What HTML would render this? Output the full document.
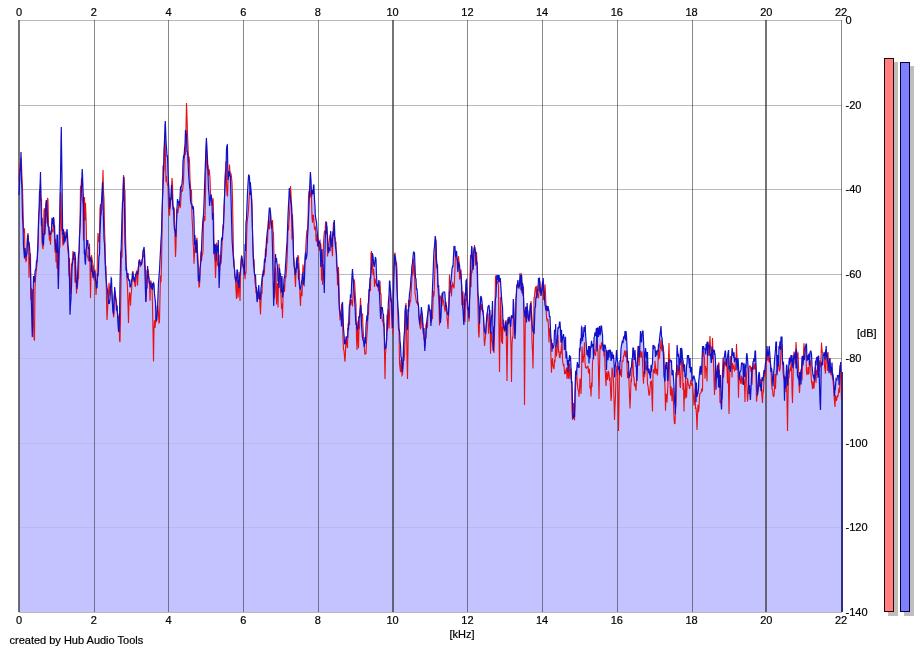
<!DOCTYPE html>
<html><head><meta charset="utf-8"><style>
html,body{margin:0;padding:0;background:#fff;}
body{width:924px;height:652px;overflow:hidden;position:relative;}
svg{position:absolute;left:0;top:0;}
text{font-family:"Liberation Sans",Arial,sans-serif;font-size:11px;fill:#000;stroke:#000;stroke-width:0.2px;}
</style></head><body>
<svg width="924" height="652" viewBox="0 0 924 652">
<rect width="924" height="652" fill="#fff"/>
<rect x="19" y="20" width="823" height="1" fill="#c4c4c4"/><rect x="19" y="105" width="823" height="1" fill="#c4c4c4"/><rect x="19" y="189" width="823" height="1" fill="#c4c4c4"/><rect x="19" y="274" width="823" height="1" fill="#c4c4c4"/><rect x="19" y="358" width="823" height="1" fill="#c4c4c4"/><rect x="19" y="443" width="823" height="1" fill="#c4c4c4"/><rect x="19" y="527" width="823" height="1" fill="#c4c4c4"/><rect x="19" y="612" width="823" height="1" fill="#c4c4c4"/>
<path d="M19 612 L19.0 181.6 L19.5 169.4 L20.0 163.3 L20.5 170.1 L21.0 152.0 L21.5 164.9 L22.0 178.5 L22.5 187.9 L23.0 206.6 L23.5 229.9 L24.0 232.9 L24.5 228.3 L25.0 248.0 L25.5 254.4 L25.7 257.0 L26.0 253.6 L26.5 254.9 L27.0 244.2 L27.5 235.4 L28.0 233.0 L28.5 240.3 L29.0 241.9 L29.5 247.0 L29.7 249.0 L30.0 257.1 L30.5 253.2 L30.6 262.6 L31.0 293.5 L31.5 288.2 L32.0 291.9 L32.3 312.2 L32.5 325.7 L33.0 289.1 L33.5 276.0 L34.0 278.8 L34.5 282.4 L35.0 272.1 L35.5 269.4 L35.8 269.0 L36.0 268.3 L36.5 261.0 L37.0 261.2 L37.5 252.0 L38.0 240.2 L38.5 221.2 L39.0 210.6 L39.3 200.0 L39.5 192.1 L40.0 188.6 L40.5 172.0 L41.0 201.0 L41.5 198.5 L42.0 217.7 L42.5 238.8 L42.7 243.0 L43.0 240.5 L43.5 238.3 L44.0 210.3 L44.5 208.2 L45.0 226.6 L45.5 217.5 L46.0 202.1 L46.4 200.0 L46.5 201.9 L47.0 211.3 L47.5 198.0 L47.9 199.4 L48.0 199.7 L48.5 226.6 L49.0 226.9 L49.5 234.5 L49.7 235.0 L50.0 235.0 L50.5 234.5 L51.0 231.1 L51.4 231.0 L51.5 228.8 L52.0 217.9 L52.5 223.7 L53.0 224.0 L53.5 217.0 L54.0 219.5 L54.5 224.9 L55.0 239.4 L55.5 239.6 L55.7 248.7 L56.0 247.7 L56.5 243.4 L57.0 235.0 L57.5 235.0 L58.0 261.2 L58.3 275.9 L58.5 277.4 L59.0 249.6 L59.5 224.3 L59.7 217.0 L60.0 197.6 L60.5 178.5 L61.0 141.5 L61.3 127.0 L61.5 144.2 L62.0 179.4 L62.5 220.9 L62.7 235.0 L63.0 232.1 L63.5 228.9 L64.0 233.0 L64.5 233.0 L65.0 232.0 L65.3 232.8 L65.5 233.4 L66.0 233.6 L66.5 234.5 L67.0 229.0 L67.5 235.3 L68.0 244.3 L68.5 249.8 L68.7 252.0 L69.0 265.1 L69.5 258.1 L70.0 280.8 L70.5 294.6 L71.0 279.9 L71.5 264.0 L72.0 264.0 L72.2 261.7 L72.5 258.1 L73.0 251.0 L73.5 254.6 L74.0 252.0 L74.5 253.9 L74.8 252.0 L75.0 254.7 L75.5 258.4 L76.0 278.6 L76.5 282.2 L77.0 284.8 L77.5 277.2 L78.0 263.7 L78.5 254.4 L79.0 252.4 L79.1 251.1 L79.5 235.2 L80.0 224.7 L80.5 185.7 L80.9 187.5 L81.0 188.0 L81.5 178.4 L82.0 174.7 L82.2 169.0 L82.5 173.7 L83.0 189.0 L83.5 200.0 L84.0 224.2 L84.3 207.9 L84.5 197.0 L85.0 220.6 L85.5 202.7 L86.0 215.7 L86.5 238.0 L87.0 240.0 L87.5 245.3 L87.8 240.0 L88.0 244.6 L88.5 249.5 L89.0 247.3 L89.5 243.5 L90.0 261.8 L90.5 257.0 L91.0 259.0 L91.3 259.0 L91.5 255.0 L92.0 258.8 L92.5 261.5 L93.0 265.0 L93.5 267.1 L94.0 271.0 L94.5 269.0 L94.7 269.5 L95.0 270.2 L95.5 279.4 L96.0 281.5 L96.5 287.0 L97.0 281.7 L97.5 250.0 L98.0 233.0 L98.2 236.1 L98.5 240.8 L99.0 241.9 L99.5 233.0 L99.9 213.7 L100.0 208.9 L100.5 204.1 L101.0 206.8 L101.5 201.5 L102.0 192.1 L102.5 182.0 L103.0 170.0 L103.4 187.1 L103.5 191.4 L104.0 198.8 L104.5 227.3 L105.0 241.3 L105.1 246.1 L105.5 265.0 L106.0 266.7 L106.5 283.3 L106.9 287.0 L107.0 287.5 L107.5 290.2 L108.0 297.7 L108.5 295.5 L108.6 292.9 L109.0 282.7 L109.5 288.9 L110.0 295.4 L110.5 285.9 L111.0 281.8 L111.2 278.0 L111.5 278.5 L112.0 293.2 L112.5 304.2 L112.9 307.5 L113.0 308.1 L113.5 314.1 L114.0 297.7 L114.5 292.1 L114.7 287.0 L115.0 290.5 L115.5 295.2 L116.0 298.3 L116.5 302.2 L117.0 305.5 L117.3 310.7 L117.5 313.1 L118.0 315.0 L118.5 322.8 L119.0 316.1 L119.5 317.8 L120.0 282.3 L120.5 262.7 L120.7 252.0 L121.0 252.0 L121.5 237.2 L122.0 215.2 L122.5 202.1 L123.0 187.3 L123.5 175.0 L123.8 176.9 L124.0 178.2 L124.5 189.2 L125.0 191.0 L125.5 235.3 L126.0 254.1 L126.5 268.1 L126.8 273.0 L127.0 273.7 L127.5 278.5 L128.0 273.0 L128.5 280.0 L129.0 279.5 L129.5 280.0 L130.0 286.8 L130.3 287.0 L130.5 286.6 L131.0 285.7 L131.5 279.4 L132.0 281.4 L132.5 272.3 L132.9 271.3 L133.0 271.0 L133.5 278.5 L134.0 278.1 L134.5 278.6 L134.6 280.1 L135.0 279.8 L135.5 274.5 L136.0 274.0 L136.3 273.0 L136.5 271.0 L137.0 271.0 L137.5 274.8 L138.0 269.5 L138.5 266.7 L139.0 261.0 L139.5 259.2 L139.8 261.0 L140.0 261.8 L140.5 263.8 L141.0 263.2 L141.5 263.7 L142.0 259.7 L142.4 259.0 L142.5 257.6 L143.0 250.7 L143.5 249.8 L144.0 247.5 L144.1 247.0 L144.5 251.7 L145.0 264.2 L145.5 268.3 L145.8 288.4 L146.0 297.8 L146.5 287.3 L147.0 269.9 L147.5 269.7 L147.6 266.0 L148.0 269.0 L148.5 271.8 L149.0 278.2 L149.3 282.2 L149.5 282.9 L150.0 282.9 L150.5 281.0 L151.0 281.0 L151.5 284.9 L152.0 283.0 L152.5 289.9 L153.0 284.5 L153.5 283.3 L153.6 283.0 L154.0 284.1 L154.5 293.9 L155.0 298.1 L155.5 302.3 L156.0 315.7 L156.5 320.0 L156.7 316.2 L157.0 307.3 L157.5 304.9 L158.0 295.1 L158.5 283.0 L159.0 276.7 L159.5 270.1 L160.0 259.8 L160.5 250.9 L161.0 240.0 L161.5 233.3 L162.0 211.4 L162.5 198.3 L162.8 179.4 L163.0 165.5 L163.5 173.2 L164.0 151.1 L164.5 140.0 L165.0 125.5 L165.3 121.0 L165.5 126.6 L166.0 140.5 L166.3 145.0 L166.5 148.0 L167.0 155.5 L167.1 157.0 L167.5 155.6 L168.0 171.8 L168.5 182.8 L168.9 188.0 L169.0 190.6 L169.5 203.8 L169.7 209.0 L170.0 206.2 L170.5 197.8 L171.0 197.1 L171.5 185.0 L172.0 178.0 L172.3 181.5 L172.5 183.8 L173.0 205.2 L173.5 207.2 L174.0 207.8 L174.5 212.9 L175.0 229.8 L175.5 233.7 L175.8 237.0 L176.0 233.0 L176.5 221.3 L177.0 208.3 L177.5 199.0 L178.0 202.5 L178.5 201.0 L179.0 202.5 L179.3 202.5 L179.5 202.6 L180.0 197.0 L180.5 187.5 L181.0 188.0 L181.5 185.8 L182.0 183.9 L182.5 177.5 L182.7 175.0 L183.0 161.1 L183.5 156.9 L184.0 158.0 L184.5 149.0 L185.0 144.9 L185.5 130.0 L186.0 127.2 L186.4 107.8 L186.5 103.0 L187.0 116.8 L187.5 134.3 L187.9 143.3 L188.0 145.5 L188.5 162.7 L189.0 156.4 L189.5 161.3 L189.7 168.6 L190.0 179.5 L190.5 186.0 L191.0 195.8 L191.4 190.9 L191.5 189.7 L192.0 204.7 L192.5 209.2 L193.0 206.5 L193.1 206.0 L193.5 208.8 L194.0 219.7 L194.5 244.9 L194.9 235.0 L195.0 236.9 L195.5 241.4 L195.7 245.4 L196.0 251.3 L196.5 240.6 L196.6 240.0 L197.0 237.7 L197.5 250.5 L198.0 258.2 L198.3 269.9 L198.5 277.8 L199.0 275.5 L199.5 282.5 L200.0 268.9 L200.5 258.4 L200.9 253.0 L201.0 251.6 L201.5 249.4 L202.0 235.2 L202.5 226.5 L202.7 223.0 L203.0 219.0 L203.5 215.4 L204.0 203.0 L204.4 192.0 L204.5 189.0 L205.0 173.9 L205.5 160.7 L206.0 147.6 L206.4 138.0 L206.5 140.1 L207.0 150.6 L207.5 159.5 L207.9 166.3 L208.0 165.3 L208.5 175.4 L209.0 169.0 L209.5 171.5 L209.6 172.8 L210.0 178.0 L210.5 193.0 L211.0 195.0 L211.3 195.0 L211.5 197.4 L212.0 203.2 L212.5 203.7 L213.0 197.9 L213.1 200.3 L213.5 210.0 L213.9 238.2 L214.0 245.2 L214.5 252.7 L214.8 244.0 L215.0 244.4 L215.5 245.4 L216.0 261.2 L216.5 242.7 L217.0 245.4 L217.5 249.0 L218.0 252.3 L218.3 240.0 L218.5 252.0 L219.0 264.9 L219.1 266.3 L219.5 272.0 L220.0 254.9 L220.5 261.9 L220.9 251.0 L221.0 248.9 L221.5 238.7 L222.0 237.8 L222.5 234.3 L223.0 224.5 L223.5 223.0 L224.0 207.4 L224.5 196.9 L225.0 175.7 L225.2 173.5 L225.5 170.2 L226.0 161.2 L226.5 148.9 L227.0 145.4 L227.4 145.0 L227.5 150.8 L228.0 178.9 L228.5 170.7 L228.7 172.0 L229.0 173.9 L229.5 164.6 L230.0 173.0 L230.4 173.0 L230.5 173.0 L231.0 173.7 L231.3 175.6 L231.5 176.9 L232.0 182.6 L232.1 185.8 L232.5 198.6 L233.0 226.3 L233.5 255.7 L233.9 259.0 L234.0 259.9 L234.5 268.9 L235.0 276.3 L235.5 277.7 L235.6 278.0 L236.0 282.2 L236.5 279.3 L237.0 270.0 L237.5 270.0 L238.0 282.0 L238.5 281.1 L239.0 272.1 L239.5 275.7 L240.0 274.3 L240.5 270.0 L241.0 261.7 L241.5 255.3 L241.7 256.0 L242.0 258.9 L242.5 259.6 L243.0 265.0 L243.5 265.2 L244.0 264.6 L244.3 268.3 L244.5 267.3 L245.0 247.9 L245.1 244.0 L245.5 251.1 L246.0 221.5 L246.5 219.6 L246.8 210.0 L247.0 205.2 L247.5 193.3 L248.0 184.2 L248.5 176.5 L248.6 175.0 L249.0 175.0 L249.5 177.6 L250.0 193.3 L250.3 182.0 L250.5 184.5 L251.0 190.6 L251.5 194.7 L252.0 203.8 L252.5 230.8 L252.9 245.0 L253.0 247.3 L253.5 259.0 L253.8 262.0 L254.0 259.2 L254.5 273.1 L255.0 275.2 L255.5 275.0 L256.0 287.0 L256.5 287.3 L257.0 299.0 L257.3 296.7 L257.5 295.1 L258.0 292.0 L258.5 289.5 L258.8 285.0 L259.0 289.1 L259.5 292.4 L260.0 297.2 L260.4 300.0 L260.5 298.0 L261.0 288.0 L261.5 284.7 L262.0 278.6 L262.5 275.0 L263.0 270.4 L263.5 272.3 L264.0 266.6 L264.2 264.0 L264.5 259.1 L265.0 258.4 L265.5 248.6 L265.9 250.0 L266.0 248.3 L266.5 240.1 L267.0 234.8 L267.5 230.0 L268.0 228.8 L268.5 219.8 L269.0 212.9 L269.4 208.0 L269.5 208.0 L270.0 208.0 L270.5 210.8 L271.0 222.0 L271.5 222.1 L272.0 227.3 L272.5 220.0 L272.8 226.9 L273.0 231.5 L273.5 233.1 L273.7 242.6 L274.0 256.7 L274.5 281.8 L275.0 268.1 L275.5 254.0 L276.0 262.3 L276.5 258.0 L276.8 262.0 L277.0 263.3 L277.5 266.7 L278.0 280.0 L278.5 279.1 L279.0 263.7 L279.5 268.0 L280.0 273.1 L280.5 273.7 L281.0 285.0 L281.5 292.5 L282.0 276.0 L282.5 297.4 L283.0 293.5 L283.2 292.0 L283.5 287.0 L284.0 279.2 L284.5 276.3 L285.0 274.8 L285.5 265.0 L285.8 262.0 L286.0 258.3 L286.5 249.0 L287.0 242.2 L287.5 230.0 L288.0 216.1 L288.5 204.9 L289.0 196.3 L289.3 188.0 L289.5 190.0 L290.0 195.1 L290.5 186.0 L291.0 193.7 L291.5 204.5 L291.9 213.0 L292.0 215.6 L292.5 214.5 L293.0 228.3 L293.5 253.6 L293.6 257.0 L294.0 260.4 L294.5 268.0 L295.0 269.0 L295.4 275.0 L295.5 274.2 L296.0 270.4 L296.5 260.9 L297.0 257.7 L297.1 257.0 L297.5 259.9 L298.0 255.0 L298.5 257.2 L299.0 266.5 L299.5 272.6 L300.0 288.0 L300.5 289.7 L300.6 290.0 L301.0 285.9 L301.5 282.1 L302.0 279.4 L302.3 275.0 L302.5 274.3 L303.0 264.6 L303.5 271.8 L304.0 272.9 L304.5 265.8 L305.0 259.3 L305.2 257.0 L305.5 252.2 L306.0 242.9 L306.5 234.9 L306.6 233.9 L307.0 229.7 L307.5 231.7 L307.8 226.1 L308.0 222.4 L308.5 196.5 L308.7 194.3 L309.0 190.8 L309.5 192.6 L310.0 179.8 L310.4 172.0 L310.5 173.4 L311.0 180.2 L311.5 194.3 L311.8 195.0 L312.0 193.5 L312.5 189.7 L313.0 194.2 L313.5 185.0 L313.9 185.0 L314.0 187.5 L314.5 199.8 L315.0 206.9 L315.3 215.0 L315.5 216.3 L316.0 219.6 L316.5 222.0 L317.0 229.7 L317.5 234.1 L318.0 241.8 L318.2 240.4 L318.5 238.4 L319.0 242.0 L319.5 241.7 L319.9 241.0 L320.0 243.7 L320.5 243.1 L320.8 244.7 L321.0 245.7 L321.5 253.8 L321.7 250.0 L322.0 248.9 L322.5 265.3 L323.0 265.0 L323.4 248.0 L323.5 242.5 L324.0 235.6 L324.3 232.8 L324.5 230.9 L325.0 233.2 L325.1 231.2 L325.5 223.2 L326.0 221.2 L326.5 222.0 L327.0 227.7 L327.5 236.1 L328.0 249.7 L328.5 245.3 L328.6 244.6 L329.0 242.0 L329.5 238.7 L330.0 235.2 L330.5 234.0 L330.7 231.0 L331.0 237.3 L331.5 241.6 L332.0 246.1 L332.1 247.0 L332.5 237.7 L333.0 231.6 L333.5 222.2 L334.0 224.1 L334.3 220.0 L334.5 225.8 L335.0 237.0 L335.5 246.3 L336.0 241.5 L336.5 253.8 L337.0 266.1 L337.3 271.0 L337.5 272.1 L338.0 271.4 L338.5 267.1 L339.0 285.7 L339.5 310.4 L340.0 311.3 L340.5 314.6 L340.7 314.3 L341.0 311.1 L341.5 305.3 L342.0 303.3 L342.5 302.0 L343.0 314.4 L343.5 328.4 L344.0 334.6 L344.2 337.0 L344.5 343.0 L345.0 342.0 L345.4 344.0 L345.5 343.4 L346.0 336.2 L346.5 337.3 L347.0 336.8 L347.5 336.9 L347.7 337.0 L348.0 324.9 L348.5 322.7 L349.0 314.2 L349.4 305.0 L349.5 305.0 L350.0 300.3 L350.5 294.2 L351.0 297.4 L351.1 298.0 L351.5 286.6 L352.0 275.8 L352.5 269.0 L353.0 277.2 L353.5 279.8 L354.0 279.7 L354.5 280.9 L354.6 282.7 L355.0 289.6 L355.5 298.0 L356.0 304.5 L356.3 323.0 L356.5 324.6 L357.0 328.4 L357.2 330.0 L357.5 328.6 L358.0 320.9 L358.5 322.9 L358.9 316.0 L359.0 316.3 L359.5 317.9 L360.0 309.7 L360.5 298.0 L360.7 302.1 L361.0 306.5 L361.5 314.1 L362.0 315.4 L362.4 313.9 L362.5 313.5 L363.0 327.9 L363.5 335.0 L364.0 343.3 L364.3 347.0 L364.5 344.1 L365.0 337.0 L365.5 343.4 L366.0 325.9 L366.5 320.3 L366.7 318.0 L367.0 315.4 L367.5 320.8 L368.0 304.3 L368.5 302.3 L369.0 288.9 L369.3 292.0 L369.5 288.0 L370.0 278.1 L370.5 278.1 L371.0 253.4 L371.1 252.9 L371.5 251.1 L372.0 260.0 L372.4 253.0 L372.5 253.5 L373.0 256.2 L373.5 262.8 L374.0 265.8 L374.2 267.0 L374.5 264.8 L375.0 260.3 L375.4 257.0 L375.5 257.4 L376.0 259.3 L376.5 275.7 L377.0 283.4 L377.1 285.0 L377.5 284.8 L378.0 285.4 L378.5 284.0 L378.9 280.0 L379.0 282.5 L379.5 288.6 L380.0 280.7 L380.5 294.5 L380.6 294.3 L381.0 293.3 L381.5 309.0 L382.0 308.8 L382.3 307.0 L382.5 308.9 L383.0 313.7 L383.5 314.7 L384.0 323.2 L384.1 328.0 L384.5 338.3 L384.9 349.0 L385.0 348.9 L385.5 348.3 L386.0 346.5 L386.5 338.9 L386.7 329.1 L387.0 314.5 L387.5 319.5 L388.0 309.3 L388.4 302.0 L388.5 300.9 L389.0 295.1 L389.5 281.0 L389.8 281.0 L390.0 284.0 L390.5 288.7 L391.0 299.5 L391.5 298.3 L392.0 315.2 L392.5 324.3 L392.7 328.0 L393.0 316.4 L393.5 277.7 L394.0 267.0 L394.5 254.0 L395.0 252.6 L395.5 258.0 L396.0 264.4 L396.2 264.2 L396.5 262.1 L397.0 270.0 L397.5 299.7 L397.9 307.0 L398.0 308.0 L398.5 313.0 L399.0 328.0 L399.5 331.6 L399.7 333.0 L400.0 340.8 L400.5 344.7 L401.0 356.6 L401.5 358.0 L402.0 364.3 L402.3 372.0 L402.5 369.7 L403.0 364.0 L403.5 345.7 L404.0 337.0 L404.5 331.1 L405.0 311.1 L405.5 306.7 L405.7 305.0 L406.0 303.0 L406.5 317.2 L407.0 324.8 L407.5 330.0 L408.0 309.3 L408.5 300.5 L409.0 301.0 L409.2 298.0 L409.5 293.8 L410.0 290.5 L410.5 285.8 L411.0 277.3 L411.5 274.5 L411.8 267.0 L412.0 265.9 L412.5 263.1 L413.0 256.7 L413.5 252.0 L413.9 252.0 L414.0 252.2 L414.5 253.0 L415.0 266.6 L415.2 272.0 L415.5 278.0 L416.0 278.7 L416.5 289.9 L417.0 288.6 L417.5 295.4 L417.8 302.0 L418.0 302.5 L418.5 305.4 L419.0 316.4 L419.5 322.0 L419.6 323.0 L420.0 324.7 L420.5 315.7 L421.0 314.0 L421.3 307.0 L421.5 308.4 L422.0 312.0 L422.5 316.4 L423.0 324.9 L423.5 334.3 L424.0 328.0 L424.5 339.6 L424.8 343.6 L425.0 346.3 L425.5 337.1 L426.0 325.2 L426.5 322.8 L427.0 319.2 L427.4 316.0 L427.5 315.5 L428.0 311.9 L428.5 305.0 L429.0 305.0 L429.5 309.8 L430.0 309.6 L430.5 310.2 L430.9 318.2 L431.0 320.2 L431.5 314.5 L432.0 301.1 L432.5 287.7 L432.6 285.0 L433.0 276.0 L433.5 261.9 L434.0 250.4 L434.5 246.8 L435.0 239.1 L435.2 236.0 L435.5 237.9 L436.0 239.8 L436.5 258.7 L436.9 264.3 L437.0 265.7 L437.5 265.9 L438.0 287.5 L438.5 285.4 L438.6 285.0 L439.0 294.0 L439.5 299.2 L440.0 295.5 L440.4 296.8 L440.5 297.2 L441.0 297.1 L441.5 302.2 L442.0 294.7 L442.1 293.0 L442.5 297.0 L443.0 292.1 L443.5 292.0 L444.0 292.0 L444.5 292.0 L444.7 292.0 L445.0 295.0 L445.5 305.3 L446.0 301.7 L446.4 305.0 L446.5 306.0 L447.0 310.9 L447.5 314.1 L448.0 314.8 L448.2 315.0 L448.5 314.9 L449.0 291.9 L449.5 274.6 L449.9 281.1 L450.0 282.7 L450.5 281.9 L451.0 281.8 L451.5 275.5 L451.7 273.0 L452.0 269.1 L452.5 266.3 L453.0 266.5 L453.5 256.0 L454.0 246.0 L454.5 248.1 L454.9 246.0 L455.0 247.8 L455.5 251.4 L456.0 253.4 L456.5 251.4 L456.6 251.0 L457.0 257.4 L457.5 261.3 L457.8 268.4 L458.0 267.3 L458.5 256.0 L458.7 258.0 L459.0 261.0 L459.5 264.9 L460.0 270.5 L460.4 272.9 L460.5 271.6 L461.0 269.5 L461.5 282.6 L461.8 287.0 L462.0 292.3 L462.5 292.7 L463.0 292.2 L463.5 305.1 L463.9 304.2 L464.0 304.0 L464.5 305.5 L464.7 299.0 L465.0 294.3 L465.5 295.0 L466.0 280.8 L466.5 280.0 L467.0 291.5 L467.3 299.0 L467.5 301.8 L468.0 308.7 L468.5 308.1 L469.0 316.4 L469.1 318.0 L469.5 299.9 L470.0 276.7 L470.5 255.0 L471.0 259.8 L471.5 249.9 L471.7 246.0 L472.0 248.0 L472.5 258.8 L473.0 257.5 L473.5 252.7 L474.0 249.0 L474.5 245.0 L474.6 245.9 L475.0 249.0 L475.5 252.7 L476.0 256.0 L476.5 251.7 L477.0 262.5 L477.4 270.0 L477.5 274.0 L478.0 293.9 L478.5 297.3 L478.6 298.0 L479.0 309.3 L479.5 324.0 L480.0 308.0 L480.5 301.4 L480.8 296.0 L481.0 296.5 L481.5 297.6 L482.0 302.1 L482.1 303.0 L482.5 305.6 L483.0 310.9 L483.5 315.7 L483.8 322.0 L484.0 324.6 L484.5 331.0 L485.0 331.9 L485.5 334.0 L486.0 326.5 L486.5 319.7 L487.0 313.2 L487.3 313.0 L487.5 311.2 L488.0 306.6 L488.5 306.3 L489.0 305.0 L489.5 309.8 L490.0 310.0 L490.5 330.1 L490.7 334.0 L491.0 327.3 L491.5 316.3 L492.0 314.3 L492.5 301.0 L493.0 331.2 L493.3 349.9 L493.5 345.7 L494.0 332.3 L494.2 327.0 L494.5 326.4 L495.0 303.4 L495.4 281.1 L495.5 275.5 L496.0 279.1 L496.5 282.1 L496.8 275.0 L497.0 276.4 L497.5 279.7 L498.0 275.0 L498.5 282.0 L499.0 275.1 L499.5 279.3 L500.0 282.3 L500.3 278.0 L500.5 281.1 L501.0 288.8 L501.5 297.0 L502.0 303.0 L502.5 306.7 L503.0 323.5 L503.5 319.5 L503.7 322.3 L504.0 326.5 L504.5 326.4 L505.0 330.3 L505.5 322.0 L506.0 320.0 L506.5 336.0 L507.0 328.1 L507.2 325.0 L507.5 324.5 L508.0 317.2 L508.5 321.6 L508.9 317.0 L509.0 317.2 L509.5 318.3 L510.0 316.5 L510.5 325.4 L510.7 327.0 L511.0 322.3 L511.5 315.2 L512.0 318.6 L512.4 317.0 L512.5 316.7 L513.0 315.3 L513.3 299.0 L513.5 301.0 L514.0 316.3 L514.5 324.6 L515.0 335.1 L515.5 323.6 L516.0 299.2 L516.5 290.3 L516.7 287.0 L517.0 284.7 L517.5 283.9 L517.9 280.0 L518.0 281.3 L518.5 287.6 L519.0 284.5 L519.3 284.6 L519.5 282.0 L520.0 275.0 L520.5 276.0 L521.0 273.0 L521.5 275.1 L521.6 275.0 L522.0 284.4 L522.5 283.0 L522.8 285.0 L523.0 288.9 L523.5 286.5 L524.0 310.0 L524.2 310.0 L524.5 312.3 L525.0 316.9 L525.4 315.5 L525.5 306.9 L526.0 306.8 L526.5 309.2 L527.0 306.3 L527.1 303.0 L527.5 309.4 L528.0 311.8 L528.5 319.2 L528.9 320.0 L529.0 319.4 L529.5 316.3 L530.0 306.5 L530.5 303.6 L530.6 303.0 L531.0 301.0 L531.5 307.0 L532.0 321.5 L532.3 327.0 L532.5 327.0 L533.0 331.8 L533.5 329.3 L534.0 297.5 L534.1 297.4 L534.5 297.0 L535.0 290.1 L535.5 287.0 L535.8 287.0 L536.0 287.0 L536.5 297.1 L537.0 285.5 L537.5 289.0 L538.0 291.0 L538.5 278.0 L539.0 279.5 L539.3 278.0 L539.5 278.0 L540.0 281.4 L540.5 287.7 L541.0 294.0 L541.5 290.8 L542.0 286.3 L542.5 282.5 L543.0 283.6 L543.2 278.0 L543.5 285.4 L544.0 292.7 L544.5 293.7 L545.0 284.4 L545.5 293.5 L546.0 306.0 L546.5 307.8 L546.7 306.0 L547.0 306.1 L547.5 311.3 L548.0 306.0 L548.5 309.3 L548.8 310.0 L549.0 310.8 L549.5 317.3 L550.0 315.9 L550.5 330.0 L551.0 339.1 L551.5 340.2 L552.0 351.7 L552.3 343.0 L552.5 344.8 L553.0 348.7 L553.5 346.3 L554.0 345.0 L554.5 329.7 L555.0 331.7 L555.5 329.0 L555.7 324.0 L556.0 347.4 L556.5 342.9 L556.6 342.0 L557.0 343.1 L557.5 334.2 L558.0 327.3 L558.3 329.0 L558.5 327.3 L559.0 327.3 L559.5 322.0 L560.0 322.0 L560.5 330.1 L561.0 342.6 L561.5 329.7 L561.8 341.0 L562.0 339.1 L562.5 339.4 L563.0 336.5 L563.5 334.0 L564.0 338.3 L564.4 350.0 L564.5 349.5 L565.0 347.1 L565.2 343.0 L565.5 336.8 L566.0 358.4 L566.5 351.3 L567.0 358.0 L567.5 365.0 L567.8 360.0 L568.0 371.6 L568.5 364.6 L569.0 360.4 L569.5 355.9 L569.6 355.0 L570.0 360.9 L570.5 356.2 L571.0 367.5 L571.3 372.8 L571.5 375.3 L572.0 381.2 L572.5 401.4 L573.0 416.6 L573.5 403.1 L573.9 405.7 L574.0 406.3 L574.5 417.1 L575.0 389.7 L575.5 375.0 L575.6 372.0 L576.0 371.1 L576.5 371.1 L577.0 366.0 L577.4 362.0 L577.5 362.9 L578.0 367.3 L578.5 364.1 L579.0 367.3 L579.1 368.0 L579.5 349.3 L580.0 350.0 L580.5 338.4 L581.0 343.4 L581.5 327.6 L581.7 327.0 L582.0 328.2 L582.5 341.1 L583.0 335.1 L583.4 337.0 L583.5 335.3 L584.0 327.0 L584.5 332.0 L585.0 328.0 L585.2 325.0 L585.5 332.9 L586.0 340.4 L586.5 346.9 L586.9 355.0 L587.0 354.2 L587.5 350.0 L588.0 356.6 L588.5 347.8 L588.6 346.0 L589.0 363.6 L589.5 346.0 L590.0 358.4 L590.4 350.0 L590.5 349.4 L591.0 346.2 L591.5 340.7 L592.0 345.1 L592.1 346.0 L592.5 345.2 L593.0 344.1 L593.5 357.2 L594.0 338.0 L594.5 336.2 L595.0 332.4 L595.5 335.9 L596.0 332.1 L596.4 328.0 L596.5 331.9 L597.0 341.1 L597.5 328.0 L598.0 328.0 L598.5 337.0 L599.0 330.0 L599.5 326.0 L600.0 335.3 L600.5 333.0 L601.0 326.0 L601.5 326.0 L601.6 326.0 L602.0 331.7 L602.5 334.6 L603.0 345.6 L603.5 345.0 L604.0 351.8 L604.5 345.0 L605.0 345.0 L605.5 346.8 L606.0 351.1 L606.1 352.0 L606.5 370.0 L607.0 350.3 L607.5 356.5 L607.8 358.0 L608.0 360.2 L608.5 350.0 L609.0 357.8 L609.5 350.0 L610.0 350.0 L610.5 350.3 L611.0 360.9 L611.3 360.0 L611.5 358.2 L612.0 351.7 L612.5 358.6 L613.0 355.0 L613.5 355.0 L614.0 362.6 L614.5 376.3 L614.7 376.0 L615.0 368.7 L615.5 364.5 L616.0 360.1 L616.5 350.0 L617.0 357.4 L617.5 361.1 L618.0 362.7 L618.2 369.0 L618.5 369.3 L619.0 366.2 L619.5 369.6 L620.0 360.0 L620.5 361.3 L621.0 348.9 L621.5 345.0 L621.7 345.0 L622.0 342.6 L622.5 340.5 L623.0 343.1 L623.5 337.2 L624.0 336.8 L624.3 336.0 L624.5 338.5 L625.0 331.0 L625.5 340.4 L626.0 331.0 L626.5 335.8 L627.0 346.7 L627.5 360.4 L627.7 362.0 L628.0 362.6 L628.5 360.7 L629.0 378.1 L629.5 376.0 L630.0 375.8 L630.5 369.5 L631.0 368.0 L631.5 366.7 L632.0 359.2 L632.5 357.7 L632.9 348.0 L633.0 348.0 L633.5 348.0 L634.0 359.9 L634.5 358.8 L634.7 360.0 L635.0 350.0 L635.5 360.0 L636.0 366.1 L636.4 367.0 L636.5 369.3 L637.0 363.9 L637.5 357.9 L638.0 346.0 L638.5 346.0 L639.0 348.0 L639.5 357.2 L640.0 342.5 L640.5 331.0 L641.0 340.0 L641.5 342.5 L642.0 333.9 L642.5 331.0 L643.0 331.0 L643.5 340.3 L644.0 353.0 L644.5 373.6 L644.7 362.0 L645.0 357.7 L645.5 348.0 L646.0 352.0 L646.5 358.3 L646.8 352.0 L647.0 369.6 L647.5 352.0 L648.0 371.0 L648.5 372.0 L649.0 368.6 L649.5 373.7 L650.0 372.7 L650.3 378.0 L650.5 378.5 L651.0 365.0 L651.5 371.9 L652.0 365.0 L652.5 363.7 L653.0 345.0 L653.5 349.4 L653.7 345.0 L654.0 346.0 L654.5 347.4 L655.0 347.3 L655.5 357.0 L656.0 350.5 L656.5 354.1 L657.0 354.8 L657.4 350.0 L657.5 350.3 L658.0 351.6 L658.5 345.4 L659.0 346.4 L659.3 341.0 L659.5 339.5 L660.0 334.3 L660.5 331.0 L661.0 326.0 L661.5 336.2 L662.0 337.8 L662.5 343.9 L662.7 345.0 L663.0 345.5 L663.5 350.0 L664.0 353.7 L664.5 378.2 L665.0 381.4 L665.5 365.9 L666.0 363.5 L666.2 362.0 L666.5 369.1 L667.0 362.0 L667.5 379.8 L667.9 381.0 L668.0 378.7 L668.5 356.9 L669.0 343.0 L669.5 360.0 L670.0 360.0 L670.5 360.0 L671.0 362.0 L671.5 361.4 L672.0 375.3 L672.5 372.0 L673.0 370.0 L673.5 378.0 L674.0 386.0 L674.5 401.0 L675.0 405.9 L675.4 412.5 L675.5 407.3 L676.0 373.6 L676.5 370.9 L677.0 349.4 L677.1 345.0 L677.5 350.1 L678.0 356.3 L678.5 353.8 L678.8 358.0 L679.0 366.9 L679.5 358.1 L680.0 365.4 L680.5 348.0 L681.0 362.9 L681.5 348.0 L682.0 350.0 L682.5 359.0 L683.0 360.2 L683.2 362.0 L683.5 365.6 L684.0 371.7 L684.5 364.3 L685.0 377.2 L685.5 374.6 L685.8 379.0 L686.0 378.0 L686.5 366.3 L687.0 363.7 L687.5 355.0 L688.0 357.4 L688.5 355.0 L689.0 362.5 L689.3 362.0 L689.5 368.0 L690.0 358.1 L690.5 372.5 L691.0 368.0 L691.5 367.6 L692.0 381.2 L692.5 377.8 L693.0 378.9 L693.5 376.5 L693.6 376.0 L694.0 376.0 L694.5 378.3 L695.0 380.1 L695.3 383.0 L695.5 389.1 L696.0 402.0 L696.5 382.4 L697.0 397.0 L697.5 394.5 L698.0 392.9 L698.5 388.4 L698.8 380.0 L699.0 379.1 L699.5 373.3 L700.0 368.0 L700.5 366.0 L700.9 375.0 L701.0 374.5 L701.5 371.8 L702.0 360.9 L702.5 348.5 L702.6 346.0 L703.0 352.4 L703.5 346.0 L704.0 348.4 L704.5 349.0 L705.0 349.3 L705.5 354.4 L706.0 345.7 L706.1 344.0 L706.5 350.2 L707.0 342.0 L707.5 355.9 L707.8 342.0 L708.0 342.0 L708.5 346.4 L709.0 347.6 L709.5 344.4 L710.0 336.0 L710.5 348.1 L711.0 350.2 L711.3 353.6 L711.5 356.0 L712.0 346.2 L712.5 338.0 L713.0 350.0 L713.5 350.0 L714.0 352.0 L714.5 351.2 L714.7 355.0 L715.0 353.6 L715.5 361.8 L716.0 369.3 L716.4 372.0 L716.5 373.1 L717.0 371.1 L717.5 366.4 L718.0 365.0 L718.2 365.0 L718.5 363.0 L719.0 363.0 L719.5 380.8 L719.9 386.0 L720.0 384.1 L720.5 374.9 L721.0 395.0 L721.5 409.0 L721.7 400.0 L722.0 388.0 L722.5 370.0 L723.0 357.5 L723.4 372.0 L723.5 369.7 L724.0 358.3 L724.5 356.2 L725.0 351.9 L725.1 351.0 L725.5 351.0 L726.0 362.1 L726.5 366.1 L726.8 363.0 L727.0 359.0 L727.5 357.4 L728.0 353.2 L728.5 350.5 L728.6 350.0 L729.0 369.3 L729.5 365.9 L730.0 361.0 L730.3 358.0 L730.5 356.0 L731.0 361.0 L731.5 359.1 L732.0 349.9 L732.1 348.0 L732.5 350.6 L733.0 355.9 L733.5 354.2 L733.8 358.0 L734.0 352.2 L734.5 362.4 L735.0 358.0 L735.5 358.0 L736.0 359.7 L736.5 344.0 L737.0 357.5 L737.5 362.0 L738.0 358.0 L738.5 365.9 L739.0 375.5 L739.5 373.9 L739.9 372.0 L740.0 371.9 L740.5 371.3 L741.0 369.6 L741.5 363.0 L742.0 363.0 L742.5 363.0 L743.0 365.4 L743.5 380.7 L744.0 363.0 L744.5 375.1 L744.7 375.0 L745.0 376.8 L745.5 364.3 L746.0 368.5 L746.5 356.5 L746.8 353.0 L747.0 354.4 L747.5 358.8 L748.0 365.9 L748.5 377.0 L749.0 368.2 L749.5 366.0 L750.0 366.0 L750.3 366.3 L750.5 366.4 L751.0 371.9 L751.5 367.0 L752.0 368.0 L752.5 369.4 L753.0 361.8 L753.5 360.7 L753.7 360.0 L754.0 358.0 L754.5 361.8 L755.0 351.0 L755.5 351.0 L756.0 364.5 L756.5 375.0 L757.0 390.2 L757.2 394.0 L757.5 394.0 L758.0 389.9 L758.5 376.4 L759.0 372.0 L759.5 373.8 L760.0 386.4 L760.5 380.2 L760.7 379.7 L761.0 379.1 L761.5 387.6 L762.0 377.2 L762.4 380.0 L762.5 380.1 L763.0 380.5 L763.5 375.1 L764.0 370.0 L764.5 373.6 L765.0 368.4 L765.5 363.0 L766.0 361.4 L766.5 355.0 L767.0 346.0 L767.5 353.5 L767.6 355.0 L768.0 354.7 L768.5 355.1 L769.0 347.7 L769.3 346.0 L769.5 350.6 L770.0 356.6 L770.5 363.0 L771.0 370.2 L771.5 367.7 L772.0 372.0 L772.5 380.0 L773.0 386.5 L773.5 377.6 L773.7 372.0 L774.0 369.6 L774.5 360.6 L775.0 355.2 L775.5 349.5 L775.9 342.0 L776.0 342.0 L776.5 342.0 L777.0 372.3 L777.5 358.4 L777.6 355.0 L778.0 362.0 L778.5 355.7 L779.0 346.1 L779.4 349.0 L779.5 347.7 L780.0 341.3 L780.5 349.9 L781.0 337.0 L781.5 337.0 L782.0 337.0 L782.5 360.1 L783.0 365.0 L783.2 363.0 L783.5 362.7 L784.0 376.0 L784.5 382.2 L784.9 377.0 L785.0 376.4 L785.5 377.6 L786.0 378.6 L786.5 365.0 L786.7 365.0 L787.0 366.1 L787.5 385.8 L788.0 375.7 L788.4 372.0 L788.5 370.3 L789.0 362.1 L789.5 357.5 L790.0 363.0 L790.5 361.9 L791.0 355.0 L791.5 361.7 L792.0 355.0 L792.5 365.2 L792.7 365.0 L793.0 368.1 L793.5 357.9 L794.0 351.6 L794.5 355.0 L795.0 359.5 L795.5 351.5 L796.0 342.0 L796.2 345.1 L796.5 349.7 L797.0 358.9 L797.5 353.8 L798.0 353.1 L798.5 364.7 L799.0 375.7 L799.5 385.4 L799.7 372.0 L800.0 375.0 L800.5 372.0 L801.0 370.0 L801.4 368.6 L801.5 368.3 L802.0 357.1 L802.5 356.0 L803.0 361.6 L803.5 354.0 L804.0 343.2 L804.5 349.8 L805.0 348.8 L805.5 347.2 L806.0 344.5 L806.1 344.0 L806.5 344.0 L807.0 361.1 L807.5 356.7 L808.0 355.9 L808.3 360.0 L808.5 357.1 L809.0 353.5 L809.5 359.1 L810.0 352.8 L810.5 351.0 L810.9 351.0 L811.0 351.5 L811.5 354.0 L812.0 365.4 L812.5 370.7 L812.7 372.0 L813.0 375.0 L813.5 376.8 L814.0 374.9 L814.4 381.0 L814.5 380.3 L815.0 366.9 L815.5 360.5 L816.0 365.5 L816.5 358.0 L817.0 357.3 L817.5 357.1 L818.0 365.4 L818.5 356.0 L818.7 356.0 L819.0 363.7 L819.5 371.5 L820.0 360.2 L820.5 367.2 L821.0 358.4 L821.3 348.8 L821.5 342.5 L822.0 349.9 L822.5 353.0 L823.0 353.0 L823.5 353.0 L823.9 353.2 L824.0 353.3 L824.5 352.3 L825.0 359.8 L825.5 351.4 L826.0 348.9 L826.2 346.0 L826.5 352.3 L827.0 352.7 L827.5 360.2 L828.0 352.1 L828.2 356.7 L828.5 363.8 L829.0 365.6 L829.5 359.6 L830.0 358.0 L830.5 368.2 L831.0 372.8 L831.5 367.3 L831.7 368.0 L832.0 362.5 L832.5 375.8 L833.0 374.9 L833.5 379.0 L834.0 383.7 L834.5 396.5 L835.0 388.3 L835.2 390.0 L835.5 386.4 L836.0 379.0 L836.5 379.7 L836.9 380.0 L837.0 379.2 L837.5 375.0 L838.0 377.4 L838.5 375.4 L838.6 375.0 L839.0 385.1 L839.5 372.6 L840.0 365.3 L840.5 364.5 L840.7 362.0 L841.0 371.2 L841.5 372.0 L841.5 612 Z" fill="#c3c3ff"/>
<rect x="19" y="20" width="823" height="1" fill="rgba(128,128,128,0.15)"/><rect x="19" y="105" width="823" height="1" fill="rgba(128,128,128,0.15)"/><rect x="19" y="189" width="823" height="1" fill="rgba(128,128,128,0.15)"/><rect x="19" y="274" width="823" height="1" fill="rgba(128,128,128,0.15)"/><rect x="19" y="358" width="823" height="1" fill="rgba(128,128,128,0.15)"/><rect x="19" y="443" width="823" height="1" fill="rgba(128,128,128,0.15)"/><rect x="19" y="527" width="823" height="1" fill="rgba(128,128,128,0.15)"/><rect x="19" y="612" width="823" height="1" fill="rgba(128,128,128,0.15)"/>
<rect x="18" y="20" width="2" height="592" fill="rgba(57,57,57,0.7)"/><rect x="94" y="20" width="1" height="592" fill="rgba(57,57,57,0.6)"/><rect x="168" y="20" width="1" height="592" fill="rgba(57,57,57,0.6)"/><rect x="243" y="20" width="1" height="592" fill="rgba(57,57,57,0.6)"/><rect x="318" y="20" width="1" height="592" fill="rgba(57,57,57,0.6)"/><rect x="392.0" y="20" width="2" height="592" fill="rgba(57,57,57,0.7)"/><rect x="467" y="20" width="1" height="592" fill="rgba(57,57,57,0.6)"/><rect x="542" y="20" width="1" height="592" fill="rgba(57,57,57,0.6)"/><rect x="617" y="20" width="1" height="592" fill="rgba(57,57,57,0.6)"/><rect x="692" y="20" width="1" height="592" fill="rgba(57,57,57,0.6)"/><rect x="765.0" y="20" width="2" height="592" fill="rgba(57,57,57,0.7)"/><rect x="841" y="20" width="1" height="592" fill="rgba(57,57,57,0.6)"/>
<path d="M19.0 181.6 L19.5 169.4 L20.0 163.3 L20.5 170.2 L21.0 157.8 L21.5 164.9 L22.0 178.5 L22.5 187.9 L23.0 206.6 L23.5 229.9 L24.0 232.9 L24.5 228.3 L25.0 251.4 L25.5 259.6 L26.0 261.3 L26.5 259.8 L27.0 244.2 L27.5 235.4 L28.0 233.0 L28.5 240.3 L29.0 277.7 L29.5 257.2 L30.0 264.8 L30.5 253.2 L31.0 300.2 L31.5 288.2 L32.0 291.9 L32.5 325.7 L33.0 289.1 L33.5 323.0 L34.0 339.0 L34.5 339.7 L35.0 287.8 L35.5 278.8 L36.0 273.1 L36.5 269.0 L37.0 263.6 L37.5 256.2 L38.0 248.3 L38.5 227.2 L39.0 212.6 L39.5 208.2 L40.0 193.7 L40.5 181.5 L41.0 201.0 L41.5 198.5 L42.0 242.3 L42.5 246.6 L43.0 249.1 L43.5 238.3 L44.0 210.3 L44.5 208.2 L45.0 234.2 L45.5 218.0 L46.0 203.4 L46.5 208.2 L47.0 223.6 L47.5 198.0 L48.0 199.7 L48.5 227.3 L49.0 234.2 L49.5 240.7 L50.0 235.9 L50.5 244.8 L51.0 233.3 L51.5 233.4 L52.0 231.1 L52.5 230.3 L53.0 231.1 L53.5 217.6 L54.0 219.5 L54.5 236.6 L55.0 252.4 L55.5 239.6 L56.0 262.3 L56.5 243.4 L57.0 268.6 L57.5 261.8 L58.0 261.2 L58.5 285.7 L59.0 257.8 L59.5 248.5 L60.0 246.9 L60.5 191.8 L61.0 195.3 L61.5 229.3 L62.0 231.5 L62.5 238.7 L63.0 245.7 L63.5 243.3 L64.0 233.0 L64.5 233.0 L65.0 232.0 L65.5 233.4 L66.0 233.6 L66.5 237.9 L67.0 238.7 L67.5 245.1 L68.0 251.9 L68.5 255.3 L69.0 276.6 L69.5 258.1 L70.0 280.8 L70.5 294.6 L71.0 279.9 L71.5 264.0 L72.0 264.0 L72.5 258.1 L73.0 251.0 L73.5 254.6 L74.0 259.7 L74.5 257.2 L75.0 282.8 L75.5 266.0 L76.0 278.6 L76.5 293.6 L77.0 284.8 L77.5 285.8 L78.0 279.4 L78.5 278.5 L79.0 255.1 L79.5 235.2 L80.0 224.7 L80.5 185.7 L81.0 188.0 L81.5 178.4 L82.0 195.8 L82.5 200.1 L83.0 204.5 L83.5 240.6 L84.0 224.2 L84.5 197.0 L85.0 220.6 L85.5 202.7 L86.0 215.7 L86.5 238.0 L87.0 254.9 L87.5 256.2 L88.0 257.8 L88.5 261.1 L89.0 251.5 L89.5 243.5 L90.0 267.3 L90.5 298.0 L91.0 274.4 L91.5 255.0 L92.0 258.8 L92.5 261.5 L93.0 265.0 L93.5 267.1 L94.0 280.5 L94.5 269.0 L95.0 270.2 L95.5 279.4 L96.0 295.0 L96.5 287.4 L97.0 281.7 L97.5 250.0 L98.0 233.0 L98.5 240.8 L99.0 241.9 L99.5 233.0 L100.0 208.9 L100.5 204.1 L101.0 215.5 L101.5 210.0 L102.0 209.6 L102.5 188.7 L103.0 170.0 L103.5 191.4 L104.0 198.8 L104.5 227.3 L105.0 241.3 L105.5 265.0 L106.0 266.7 L106.5 300.8 L107.0 320.0 L107.5 311.0 L108.0 301.0 L108.5 295.5 L109.0 282.7 L109.5 288.9 L110.0 295.4 L110.5 285.9 L111.0 289.4 L111.5 290.1 L112.0 293.7 L112.5 305.2 L113.0 308.1 L113.5 317.3 L114.0 314.5 L114.5 293.8 L115.0 291.5 L115.5 295.2 L116.0 298.3 L116.5 302.2 L117.0 307.3 L117.5 313.1 L118.0 315.0 L118.5 322.8 L119.0 316.1 L119.5 340.2 L120.0 342.0 L120.5 318.8 L121.0 283.4 L121.5 248.8 L122.0 257.6 L122.5 225.0 L123.0 187.3 L123.5 175.0 L124.0 178.2 L124.5 189.2 L125.0 191.0 L125.5 235.3 L126.0 254.1 L126.5 269.0 L127.0 279.4 L127.5 287.8 L128.0 304.8 L128.5 323.0 L129.0 300.9 L129.5 292.3 L130.0 294.6 L130.5 305.8 L131.0 295.3 L131.5 291.4 L132.0 281.6 L132.5 272.3 L133.0 271.0 L133.5 278.7 L134.0 281.9 L134.5 278.6 L135.0 286.1 L135.5 286.3 L136.0 278.1 L136.5 271.0 L137.0 271.0 L137.5 285.6 L138.0 275.5 L138.5 271.6 L139.0 262.3 L139.5 259.2 L140.0 263.5 L140.5 266.9 L141.0 263.4 L141.5 263.7 L142.0 262.7 L142.5 259.1 L143.0 256.9 L143.5 256.5 L144.0 249.9 L144.5 251.7 L145.0 264.2 L145.5 268.3 L146.0 301.8 L146.5 288.7 L147.0 269.9 L147.5 278.6 L148.0 269.0 L148.5 271.8 L149.0 281.2 L149.5 282.9 L150.0 300.8 L150.5 281.0 L151.0 281.0 L151.5 284.9 L152.0 286.5 L152.5 305.2 L153.0 330.6 L153.5 361.5 L154.0 328.4 L154.5 320.4 L155.0 328.0 L155.5 322.6 L156.0 315.7 L156.5 322.2 L157.0 307.3 L157.5 304.9 L158.0 309.7 L158.5 313.7 L159.0 322.8 L159.5 322.0 L160.0 297.0 L160.5 275.4 L161.0 282.3 L161.5 265.9 L162.0 234.1 L162.5 200.3 L163.0 165.5 L163.5 173.2 L164.0 168.9 L164.5 146.0 L165.0 137.0 L165.5 157.8 L166.0 181.8 L166.5 175.8 L167.0 182.6 L167.5 184.3 L168.0 186.3 L168.5 207.7 L169.0 211.3 L169.5 215.8 L170.0 207.5 L170.5 204.0 L171.0 197.1 L171.5 188.7 L172.0 178.0 L172.5 183.8 L173.0 205.2 L173.5 207.7 L174.0 207.8 L174.5 212.9 L175.0 239.6 L175.5 257.0 L176.0 245.9 L176.5 221.3 L177.0 208.8 L177.5 212.3 L178.0 212.5 L178.5 206.8 L179.0 202.5 L179.5 202.6 L180.0 208.1 L180.5 206.2 L181.0 197.8 L181.5 189.4 L182.0 191.5 L182.5 191.2 L183.0 186.2 L183.5 182.7 L184.0 165.8 L184.5 152.1 L185.0 149.2 L185.5 155.0 L186.0 127.2 L186.5 103.0 L187.0 116.8 L187.5 134.3 L188.0 145.5 L188.5 162.7 L189.0 156.4 L189.5 161.3 L190.0 179.5 L190.5 186.0 L191.0 195.8 L191.5 189.7 L192.0 217.0 L192.5 225.8 L193.0 240.4 L193.5 248.2 L194.0 263.8 L194.5 254.0 L195.0 244.6 L195.5 241.4 L196.0 251.3 L196.5 240.6 L197.0 237.7 L197.5 250.5 L198.0 258.2 L198.5 277.8 L199.0 287.1 L199.5 286.8 L200.0 273.5 L200.5 258.4 L201.0 251.6 L201.5 260.9 L202.0 255.8 L202.5 254.7 L203.0 251.0 L203.5 222.6 L204.0 216.0 L204.5 220.5 L205.0 220.0 L205.5 193.2 L206.0 152.4 L206.5 141.8 L207.0 165.5 L207.5 170.0 L208.0 165.3 L208.5 175.4 L209.0 169.0 L209.5 171.5 L210.0 178.0 L210.5 193.0 L211.0 199.7 L211.5 198.8 L212.0 205.6 L212.5 203.7 L213.0 197.9 L213.5 210.0 L214.0 245.2 L214.5 256.5 L215.0 261.3 L215.5 278.0 L216.0 265.6 L216.5 242.7 L217.0 245.4 L217.5 265.7 L218.0 263.5 L218.5 267.3 L219.0 264.9 L219.5 272.0 L220.0 254.9 L220.5 264.3 L221.0 263.5 L221.5 256.5 L222.0 246.5 L222.5 234.3 L223.0 224.5 L223.5 229.5 L224.0 207.4 L224.5 197.4 L225.0 175.7 L225.5 170.2 L226.0 161.2 L226.5 183.6 L227.0 194.6 L227.5 196.4 L228.0 178.9 L228.5 170.7 L229.0 173.9 L229.5 164.6 L230.0 173.0 L230.5 173.0 L231.0 173.7 L231.5 176.9 L232.0 182.6 L232.5 198.6 L233.0 226.3 L233.5 255.7 L234.0 259.9 L234.5 270.4 L235.0 279.2 L235.5 280.0 L236.0 290.5 L236.5 299.0 L237.0 282.0 L237.5 281.1 L238.0 297.8 L238.5 291.5 L239.0 272.1 L239.5 285.8 L240.0 301.0 L240.5 278.3 L241.0 261.7 L241.5 255.3 L242.0 258.9 L242.5 265.1 L243.0 267.1 L243.5 266.1 L244.0 264.6 L244.5 270.8 L245.0 279.1 L245.5 271.7 L246.0 273.5 L246.5 242.8 L247.0 224.7 L247.5 219.0 L248.0 215.1 L248.5 209.3 L249.0 200.2 L249.5 192.9 L250.0 193.3 L250.5 193.4 L251.0 192.1 L251.5 194.7 L252.0 203.8 L252.5 231.2 L253.0 252.5 L253.5 266.0 L254.0 259.2 L254.5 273.1 L255.0 282.7 L255.5 284.9 L256.0 293.5 L256.5 287.8 L257.0 299.0 L257.5 295.1 L258.0 292.2 L258.5 298.9 L259.0 293.9 L259.5 292.4 L260.0 305.7 L260.5 314.5 L261.0 302.0 L261.5 291.8 L262.0 292.6 L262.5 278.4 L263.0 270.4 L263.5 272.3 L264.0 275.4 L264.5 271.2 L265.0 258.4 L265.5 248.6 L266.0 256.7 L266.5 249.8 L267.0 238.6 L267.5 243.5 L268.0 229.3 L268.5 219.8 L269.0 225.6 L269.5 229.2 L270.0 219.8 L270.5 210.8 L271.0 223.7 L271.5 228.6 L272.0 227.3 L272.5 220.0 L273.0 231.5 L273.5 233.1 L274.0 256.7 L274.5 298.4 L275.0 291.6 L275.5 267.2 L276.0 273.2 L276.5 304.5 L277.0 293.9 L277.5 282.9 L278.0 307.6 L278.5 282.2 L279.0 263.7 L279.5 276.3 L280.0 280.3 L280.5 290.8 L281.0 295.1 L281.5 308.7 L282.0 303.5 L282.5 318.0 L283.0 298.8 L283.5 287.0 L284.0 284.8 L284.5 292.0 L285.0 282.7 L285.5 276.7 L286.0 276.9 L286.5 270.6 L287.0 260.9 L287.5 247.7 L288.0 225.2 L288.5 230.4 L289.0 220.4 L289.5 214.5 L290.0 206.4 L290.5 186.0 L291.0 193.7 L291.5 204.8 L292.0 239.5 L292.5 214.5 L293.0 228.3 L293.5 256.2 L294.0 260.4 L294.5 270.9 L295.0 277.9 L295.5 287.0 L296.0 271.4 L296.5 267.1 L297.0 267.6 L297.5 259.9 L298.0 255.0 L298.5 257.2 L299.0 266.5 L299.5 272.6 L300.0 297.0 L300.5 306.0 L301.0 294.4 L301.5 290.2 L302.0 296.3 L302.5 282.0 L303.0 264.6 L303.5 271.8 L304.0 272.9 L304.5 265.8 L305.0 259.3 L305.5 254.3 L306.0 242.9 L306.5 234.9 L307.0 229.7 L307.5 231.7 L308.0 222.4 L308.5 196.5 L309.0 190.8 L309.5 192.9 L310.0 185.9 L310.5 197.5 L311.0 192.4 L311.5 197.5 L312.0 217.2 L312.5 222.7 L313.0 215.3 L313.5 215.6 L314.0 222.0 L314.5 229.0 L315.0 228.4 L315.5 226.6 L316.0 240.1 L316.5 241.6 L317.0 234.4 L317.5 246.1 L318.0 241.8 L318.5 238.4 L319.0 249.1 L319.5 249.9 L320.0 248.2 L320.5 243.1 L321.0 245.7 L321.5 280.6 L322.0 263.6 L322.5 284.8 L323.0 269.9 L323.5 242.5 L324.0 235.6 L324.5 230.9 L325.0 233.2 L325.5 223.2 L326.0 221.2 L326.5 228.6 L327.0 227.7 L327.5 256.5 L328.0 252.7 L328.5 245.3 L329.0 242.0 L329.5 238.7 L330.0 235.2 L330.5 234.0 L331.0 247.3 L331.5 241.6 L332.0 249.8 L332.5 256.2 L333.0 232.1 L333.5 222.2 L334.0 226.4 L334.5 238.5 L335.0 237.0 L335.5 246.3 L336.0 241.5 L336.5 264.7 L337.0 268.1 L337.5 285.5 L338.0 271.4 L338.5 267.1 L339.0 285.7 L339.5 311.0 L340.0 320.4 L340.5 316.5 L341.0 311.1 L341.5 305.3 L342.0 303.3 L342.5 318.0 L343.0 339.4 L343.5 349.9 L344.0 350.2 L344.5 357.0 L345.0 361.6 L345.5 352.3 L346.0 336.2 L346.5 340.1 L347.0 346.3 L347.5 348.1 L348.0 324.9 L348.5 322.7 L349.0 322.7 L349.5 325.1 L350.0 300.3 L350.5 305.3 L351.0 298.8 L351.5 300.3 L352.0 303.8 L352.5 306.5 L353.0 295.3 L353.5 279.8 L354.0 279.7 L354.5 280.9 L355.0 289.6 L355.5 298.0 L356.0 304.5 L356.5 338.2 L357.0 350.0 L357.5 331.3 L358.0 320.9 L358.5 348.3 L359.0 327.1 L359.5 329.0 L360.0 309.7 L360.5 298.0 L361.0 308.3 L361.5 314.1 L362.0 315.4 L362.5 313.5 L363.0 327.9 L363.5 335.0 L364.0 343.3 L364.5 350.3 L365.0 354.1 L365.5 353.7 L366.0 353.4 L366.5 341.8 L367.0 333.5 L367.5 327.2 L368.0 312.2 L368.5 314.9 L369.0 298.5 L369.5 291.1 L370.0 287.8 L370.5 291.2 L371.0 253.4 L371.5 251.1 L372.0 260.0 L372.5 265.1 L373.0 275.1 L373.5 268.7 L374.0 273.2 L374.5 286.9 L375.0 278.5 L375.5 281.3 L376.0 283.0 L376.5 285.2 L377.0 284.6 L377.5 287.1 L378.0 285.4 L378.5 291.3 L379.0 288.2 L379.5 288.6 L380.0 280.7 L380.5 294.5 L381.0 293.3 L381.5 312.4 L382.0 317.6 L382.5 321.7 L383.0 320.1 L383.5 326.2 L384.0 323.2 L384.5 352.2 L385.0 379.0 L385.5 353.7 L386.0 349.1 L386.5 338.9 L387.0 314.5 L387.5 330.8 L388.0 309.3 L388.5 313.5 L389.0 328.6 L389.5 316.8 L390.0 298.5 L390.5 288.7 L391.0 299.5 L391.5 298.3 L392.0 328.5 L392.5 325.8 L393.0 334.0 L393.5 277.7 L394.0 267.0 L394.5 260.7 L395.0 252.6 L395.5 259.1 L396.0 265.7 L396.5 262.1 L397.0 270.0 L397.5 300.1 L398.0 320.2 L398.5 329.6 L399.0 330.8 L399.5 363.3 L400.0 367.6 L400.5 372.2 L401.0 359.6 L401.5 367.7 L402.0 375.4 L402.5 374.6 L403.0 367.5 L403.5 351.0 L404.0 360.9 L404.5 355.7 L405.0 339.1 L405.5 317.8 L406.0 303.0 L406.5 325.0 L407.0 357.4 L407.5 379.0 L408.0 348.4 L408.5 300.5 L409.0 301.0 L409.5 306.7 L410.0 300.7 L410.5 302.2 L411.0 295.2 L411.5 285.5 L412.0 277.0 L412.5 273.5 L413.0 266.6 L413.5 258.6 L414.0 275.5 L414.5 265.1 L415.0 293.4 L415.5 295.4 L416.0 299.3 L416.5 302.4 L417.0 301.7 L417.5 303.7 L418.0 302.5 L418.5 307.4 L419.0 316.4 L419.5 322.6 L420.0 326.6 L420.5 328.6 L421.0 327.7 L421.5 318.5 L422.0 313.2 L422.5 322.3 L423.0 324.9 L423.5 334.5 L424.0 339.9 L424.5 339.6 L425.0 346.3 L425.5 337.1 L426.0 325.2 L426.5 322.8 L427.0 328.0 L427.5 326.9 L428.0 311.9 L428.5 310.4 L429.0 309.9 L429.5 310.5 L430.0 309.6 L430.5 310.2 L431.0 320.2 L431.5 321.1 L432.0 317.9 L432.5 318.2 L433.0 303.5 L433.5 290.9 L434.0 296.4 L434.5 280.5 L435.0 264.6 L435.5 255.7 L436.0 239.8 L436.5 258.7 L437.0 265.7 L437.5 275.1 L438.0 289.4 L438.5 296.4 L439.0 307.2 L439.5 325.4 L440.0 295.5 L440.5 297.2 L441.0 297.1 L441.5 302.2 L442.0 306.3 L442.5 297.0 L443.0 299.0 L443.5 301.7 L444.0 304.2 L444.5 308.0 L445.0 311.0 L445.5 310.0 L446.0 301.7 L446.5 307.5 L447.0 317.4 L447.5 322.3 L448.0 329.0 L448.5 315.5 L449.0 291.9 L449.5 274.6 L450.0 282.7 L450.5 281.9 L451.0 288.4 L451.5 296.4 L452.0 286.1 L452.5 282.3 L453.0 287.1 L453.5 285.8 L454.0 288.4 L454.5 280.5 L455.0 268.4 L455.5 251.4 L456.0 257.0 L456.5 258.0 L457.0 259.1 L457.5 270.1 L458.0 267.3 L458.5 256.0 L459.0 261.0 L459.5 279.6 L460.0 278.1 L460.5 271.6 L461.0 269.5 L461.5 284.7 L462.0 305.1 L462.5 292.7 L463.0 292.2 L463.5 305.1 L464.0 304.0 L464.5 321.3 L465.0 321.6 L465.5 298.5 L466.0 300.8 L466.5 285.9 L467.0 302.2 L467.5 309.8 L468.0 309.1 L468.5 315.8 L469.0 321.5 L469.5 312.7 L470.0 276.7 L470.5 255.0 L471.0 287.2 L471.5 270.8 L472.0 273.1 L472.5 268.4 L473.0 257.5 L473.5 252.7 L474.0 250.1 L474.5 245.0 L475.0 249.6 L475.5 265.6 L476.0 263.1 L476.5 251.7 L477.0 262.5 L477.5 288.3 L478.0 306.8 L478.5 332.3 L479.0 337.6 L479.5 324.0 L480.0 308.0 L480.5 304.4 L481.0 310.4 L481.5 308.9 L482.0 304.0 L482.5 305.6 L483.0 312.0 L483.5 315.7 L484.0 335.4 L484.5 346.0 L485.0 340.4 L485.5 336.7 L486.0 331.7 L486.5 323.8 L487.0 319.4 L487.5 314.8 L488.0 313.2 L488.5 333.7 L489.0 326.2 L489.5 323.2 L490.0 310.0 L490.5 353.7 L491.0 342.3 L491.5 331.4 L492.0 339.9 L492.5 342.1 L493.0 348.3 L493.5 351.0 L494.0 352.8 L494.5 333.4 L495.0 303.4 L495.5 275.5 L496.0 279.1 L496.5 283.3 L497.0 281.4 L497.5 282.9 L498.0 282.2 L498.5 285.7 L499.0 332.2 L499.5 372.0 L500.0 334.1 L500.5 297.0 L501.0 316.3 L501.5 342.6 L502.0 326.7 L502.5 343.9 L503.0 324.0 L503.5 319.5 L504.0 326.5 L504.5 331.2 L505.0 330.6 L505.5 323.0 L506.0 320.0 L506.5 348.4 L507.0 381.0 L507.5 345.5 L508.0 317.2 L508.5 321.6 L509.0 322.0 L509.5 319.2 L510.0 316.5 L510.5 334.6 L511.0 346.6 L511.5 382.0 L512.0 344.8 L512.5 336.7 L513.0 337.8 L513.5 301.0 L514.0 318.5 L514.5 324.6 L515.0 335.1 L515.5 331.4 L516.0 299.2 L516.5 290.3 L517.0 285.0 L517.5 287.5 L518.0 284.5 L518.5 288.0 L519.0 288.4 L519.5 282.0 L520.0 284.4 L520.5 279.2 L521.0 273.0 L521.5 275.1 L522.0 284.4 L522.5 288.3 L523.0 295.9 L523.5 286.5 L524.0 335.7 L524.5 405.0 L525.0 350.1 L525.5 306.9 L526.0 316.6 L526.5 309.2 L527.0 311.8 L527.5 315.4 L528.0 318.4 L528.5 319.7 L529.0 321.2 L529.5 320.9 L530.0 318.8 L530.5 312.3 L531.0 301.0 L531.5 307.0 L532.0 342.6 L532.5 351.0 L533.0 368.5 L533.5 339.7 L534.0 297.5 L534.5 297.0 L535.0 290.1 L535.5 287.0 L536.0 287.0 L536.5 297.1 L537.0 285.5 L537.5 293.3 L538.0 297.7 L538.5 297.5 L539.0 291.1 L539.5 286.0 L540.0 281.4 L540.5 291.1 L541.0 294.0 L541.5 292.8 L542.0 286.3 L542.5 282.5 L543.0 283.6 L543.5 299.9 L544.0 292.7 L544.5 293.7 L545.0 284.4 L545.5 293.5 L546.0 306.0 L546.5 317.3 L547.0 320.2 L547.5 319.0 L548.0 319.7 L548.5 326.7 L549.0 342.5 L549.5 328.4 L550.0 332.9 L550.5 336.7 L551.0 360.1 L551.5 372.8 L552.0 361.2 L552.5 358.2 L553.0 365.2 L553.5 368.2 L554.0 368.5 L554.5 361.2 L555.0 362.2 L555.5 345.3 L556.0 349.8 L556.5 356.4 L557.0 350.8 L557.5 342.1 L558.0 335.0 L558.5 352.0 L559.0 351.6 L559.5 357.4 L560.0 357.6 L560.5 352.4 L561.0 353.1 L561.5 345.0 L562.0 339.1 L562.5 359.7 L563.0 363.6 L563.5 365.4 L564.0 364.9 L564.5 373.0 L565.0 372.0 L565.5 373.9 L566.0 369.3 L566.5 368.4 L567.0 379.0 L567.5 368.3 L568.0 371.6 L568.5 378.7 L569.0 372.2 L569.5 363.5 L570.0 379.3 L570.5 369.2 L571.0 369.1 L571.5 375.3 L572.0 408.9 L572.5 420.0 L573.0 416.6 L573.5 403.1 L574.0 406.3 L574.5 420.5 L575.0 405.9 L575.5 387.2 L576.0 376.2 L576.5 371.1 L577.0 378.2 L577.5 384.6 L578.0 389.8 L578.5 390.4 L579.0 396.6 L579.5 389.5 L580.0 379.1 L580.5 379.3 L581.0 394.0 L581.5 377.0 L582.0 346.5 L582.5 355.2 L583.0 362.8 L583.5 358.2 L584.0 353.3 L584.5 342.2 L585.0 362.0 L585.5 367.5 L586.0 367.6 L586.5 368.2 L587.0 367.0 L587.5 367.5 L588.0 365.7 L588.5 373.4 L589.0 370.2 L589.5 368.8 L590.0 388.4 L590.5 385.6 L591.0 396.5 L591.5 382.6 L592.0 387.0 L592.5 361.5 L593.0 358.7 L593.5 357.2 L594.0 348.8 L594.5 353.3 L595.0 353.9 L595.5 355.9 L596.0 347.1 L596.5 340.5 L597.0 341.1 L597.5 347.7 L598.0 351.2 L598.5 372.5 L599.0 399.0 L599.5 371.2 L600.0 346.0 L600.5 346.8 L601.0 349.3 L601.5 342.2 L602.0 345.2 L602.5 344.2 L603.0 345.6 L603.5 345.3 L604.0 356.6 L604.5 350.7 L605.0 365.9 L605.5 376.9 L606.0 386.0 L606.5 374.3 L607.0 371.2 L607.5 380.0 L608.0 376.1 L608.5 371.9 L609.0 373.0 L609.5 380.9 L610.0 377.3 L610.5 388.1 L611.0 401.0 L611.5 395.9 L612.0 367.5 L612.5 369.9 L613.0 375.3 L613.5 381.1 L614.0 398.5 L614.5 420.0 L615.0 406.2 L615.5 396.3 L616.0 376.2 L616.5 370.5 L617.0 365.3 L617.5 367.7 L618.0 397.8 L618.5 431.0 L619.0 403.6 L619.5 369.6 L620.0 371.2 L620.5 375.4 L621.0 369.1 L621.5 377.1 L622.0 361.3 L622.5 360.9 L623.0 361.3 L623.5 355.7 L624.0 355.5 L624.5 351.5 L625.0 350.4 L625.5 357.2 L626.0 354.8 L626.5 350.8 L627.0 365.5 L627.5 378.3 L628.0 373.9 L628.5 371.5 L629.0 382.1 L629.5 396.9 L630.0 408.6 L630.5 396.5 L631.0 380.0 L631.5 380.9 L632.0 369.3 L632.5 358.9 L633.0 362.1 L633.5 375.9 L634.0 377.8 L634.5 386.1 L635.0 383.2 L635.5 387.3 L636.0 390.6 L636.5 381.1 L637.0 363.9 L637.5 357.9 L638.0 346.0 L638.5 352.5 L639.0 366.0 L639.5 358.1 L640.0 350.9 L640.5 351.3 L641.0 357.8 L641.5 354.8 L642.0 351.3 L642.5 360.9 L643.0 375.5 L643.5 383.7 L644.0 371.5 L644.5 377.0 L645.0 372.9 L645.5 360.7 L646.0 369.8 L646.5 366.0 L647.0 369.6 L647.5 384.0 L648.0 386.0 L648.5 390.9 L649.0 395.2 L649.5 394.9 L650.0 389.6 L650.5 382.4 L651.0 383.0 L651.5 380.4 L652.0 399.2 L652.5 411.5 L653.0 374.5 L653.5 369.4 L654.0 372.2 L654.5 372.7 L655.0 360.7 L655.5 366.9 L656.0 374.2 L656.5 369.8 L657.0 369.4 L657.5 375.4 L658.0 362.9 L658.5 348.4 L659.0 358.4 L659.5 357.7 L660.0 349.5 L660.5 348.5 L661.0 339.4 L661.5 347.2 L662.0 351.5 L662.5 347.1 L663.0 345.5 L663.5 350.0 L664.0 353.7 L664.5 378.2 L665.0 388.0 L665.5 410.8 L666.0 393.5 L666.5 396.7 L667.0 402.5 L667.5 392.5 L668.0 383.4 L668.5 356.9 L669.0 343.0 L669.5 363.2 L670.0 380.8 L670.5 395.6 L671.0 386.3 L671.5 390.5 L672.0 401.2 L672.5 392.4 L673.0 387.8 L673.5 404.9 L674.0 418.0 L674.5 423.7 L675.0 423.6 L675.5 409.7 L676.0 404.7 L676.5 370.9 L677.0 376.8 L677.5 364.7 L678.0 373.3 L678.5 374.9 L679.0 366.9 L679.5 366.6 L680.0 385.6 L680.5 387.9 L681.0 373.6 L681.5 361.9 L682.0 359.1 L682.5 364.2 L683.0 390.0 L683.5 382.9 L684.0 411.5 L684.5 389.5 L685.0 399.1 L685.5 378.8 L686.0 394.5 L686.5 397.7 L687.0 387.6 L687.5 378.0 L688.0 381.7 L688.5 385.2 L689.0 385.7 L689.5 388.8 L690.0 385.9 L690.5 383.3 L691.0 379.9 L691.5 384.0 L692.0 385.8 L692.5 383.3 L693.0 391.2 L693.5 396.6 L694.0 405.4 L694.5 400.6 L695.0 388.6 L695.5 409.0 L696.0 407.5 L696.5 415.1 L697.0 430.0 L697.5 415.4 L698.0 404.9 L698.5 412.1 L699.0 407.9 L699.5 396.8 L700.0 393.4 L700.5 392.9 L701.0 392.8 L701.5 390.0 L702.0 388.5 L702.5 391.4 L703.0 355.7 L703.5 351.3 L704.0 354.1 L704.5 358.3 L705.0 378.7 L705.5 365.9 L706.0 368.6 L706.5 368.5 L707.0 381.6 L707.5 355.9 L708.0 349.7 L708.5 347.6 L709.0 355.6 L709.5 344.4 L710.0 336.0 L710.5 348.1 L711.0 350.2 L711.5 356.0 L712.0 353.5 L712.5 338.0 L713.0 352.6 L713.5 363.0 L714.0 380.1 L714.5 395.0 L715.0 379.9 L715.5 364.0 L716.0 369.3 L716.5 380.6 L717.0 371.1 L717.5 369.7 L718.0 375.0 L718.5 363.0 L719.0 363.0 L719.5 380.8 L720.0 402.5 L720.5 402.8 L721.0 399.5 L721.5 409.0 L722.0 388.0 L722.5 370.0 L723.0 357.5 L723.5 377.7 L724.0 368.6 L724.5 362.7 L725.0 363.7 L725.5 362.6 L726.0 365.9 L726.5 366.1 L727.0 367.5 L727.5 383.6 L728.0 355.9 L728.5 387.1 L729.0 414.0 L729.5 387.0 L730.0 361.0 L730.5 356.0 L731.0 361.0 L731.5 361.2 L732.0 377.4 L732.5 363.0 L733.0 369.1 L733.5 366.4 L734.0 365.3 L734.5 370.7 L735.0 369.9 L735.5 369.5 L736.0 360.3 L736.5 344.0 L737.0 357.5 L737.5 365.5 L738.0 371.6 L738.5 397.7 L739.0 375.5 L739.5 373.9 L740.0 378.0 L740.5 383.0 L741.0 383.4 L741.5 375.7 L742.0 378.4 L742.5 384.1 L743.0 377.5 L743.5 380.7 L744.0 380.2 L744.5 384.9 L745.0 402.0 L745.5 374.1 L746.0 368.9 L746.5 376.4 L747.0 388.0 L747.5 401.4 L748.0 395.6 L748.5 385.4 L749.0 368.2 L749.5 366.0 L750.0 366.0 L750.5 366.4 L751.0 371.9 L751.5 367.0 L752.0 384.7 L752.5 370.2 L753.0 368.1 L753.5 368.8 L754.0 362.8 L754.5 369.1 L755.0 367.0 L755.5 363.2 L756.0 374.9 L756.5 401.8 L757.0 396.7 L757.5 394.0 L758.0 389.9 L758.5 389.0 L759.0 377.7 L759.5 383.0 L760.0 386.4 L760.5 380.2 L761.0 379.1 L761.5 391.0 L762.0 397.0 L762.5 403.0 L763.0 390.3 L763.5 391.1 L764.0 379.5 L764.5 373.6 L765.0 369.8 L765.5 376.6 L766.0 369.0 L766.5 355.3 L767.0 350.8 L767.5 360.0 L768.0 359.7 L768.5 355.2 L769.0 362.2 L769.5 357.4 L770.0 362.2 L770.5 363.0 L771.0 370.2 L771.5 382.7 L772.0 389.0 L772.5 389.2 L773.0 395.3 L773.5 396.5 L774.0 395.8 L774.5 388.1 L775.0 374.1 L775.5 389.1 L776.0 375.8 L776.5 370.6 L777.0 372.3 L777.5 368.4 L778.0 364.7 L778.5 355.7 L779.0 369.2 L779.5 371.4 L780.0 369.1 L780.5 363.8 L781.0 346.4 L781.5 348.2 L782.0 344.3 L782.5 360.1 L783.0 372.0 L783.5 376.8 L784.0 376.0 L784.5 382.2 L785.0 376.4 L785.5 377.6 L786.0 392.2 L786.5 370.7 L787.0 400.4 L787.5 431.0 L788.0 398.7 L788.5 376.6 L789.0 378.1 L789.5 371.3 L790.0 369.4 L790.5 370.3 L791.0 365.3 L791.5 362.3 L792.0 390.2 L792.5 403.0 L793.0 380.8 L793.5 357.9 L794.0 351.6 L794.5 356.5 L795.0 363.5 L795.5 362.8 L796.0 342.0 L796.5 349.7 L797.0 358.9 L797.5 353.8 L798.0 353.1 L798.5 364.7 L799.0 384.4 L799.5 393.0 L800.0 384.1 L800.5 372.4 L801.0 370.0 L801.5 368.3 L802.0 380.5 L802.5 363.7 L803.0 361.6 L803.5 354.0 L804.0 343.2 L804.5 349.8 L805.0 348.9 L805.5 348.9 L806.0 352.9 L806.5 372.3 L807.0 374.5 L807.5 374.0 L808.0 367.1 L808.5 373.9 L809.0 373.6 L809.5 359.1 L810.0 366.4 L810.5 360.4 L811.0 374.0 L811.5 382.3 L812.0 383.4 L812.5 389.3 L813.0 380.7 L813.5 386.3 L814.0 388.4 L814.5 381.3 L815.0 366.9 L815.5 374.4 L816.0 383.0 L816.5 370.1 L817.0 375.0 L817.5 367.7 L818.0 365.4 L818.5 360.0 L819.0 363.7 L819.5 371.5 L820.0 360.2 L820.5 367.2 L821.0 358.4 L821.5 342.5 L822.0 349.9 L822.5 353.0 L823.0 353.0 L823.5 353.0 L824.0 353.3 L824.5 366.0 L825.0 369.7 L825.5 373.7 L826.0 351.7 L826.5 352.3 L827.0 358.5 L827.5 371.0 L828.0 352.1 L828.5 363.8 L829.0 365.6 L829.5 371.0 L830.0 369.9 L830.5 371.5 L831.0 375.2 L831.5 367.8 L832.0 371.6 L832.5 379.0 L833.0 380.6 L833.5 386.4 L834.0 394.9 L834.5 401.7 L835.0 407.0 L835.5 395.4 L836.0 396.7 L836.5 400.9 L837.0 398.2 L837.5 395.9 L838.0 396.3 L838.5 391.5 L839.0 387.8 L839.5 392.8 L840.0 365.3 L840.5 368.3 L841.0 382.0 L841.5 400.3" fill="none" stroke="#e81010" stroke-width="1.1" shape-rendering="auto" stroke-linejoin="miter"/>
<path d="M19.0 195.0 L19.5 183.9 L20.0 170.0 L20.5 170.1 L21.0 152.0 L21.5 179.8 L22.0 190.0 L22.5 216.7 L23.0 225.0 L23.5 245.8 L24.0 252.0 L24.5 258.4 L25.0 248.0 L25.7 257.0 L26.0 253.6 L26.5 254.9 L27.0 252.1 L27.5 239.7 L28.0 235.0 L28.5 245.1 L29.0 241.9 L29.7 249.0 L30.0 257.1 L30.6 276.0 L31.0 293.5 L31.5 306.3 L32.0 327.5 L32.3 337.0 L32.5 326.9 L33.0 297.2 L33.5 276.0 L34.0 278.8 L34.5 282.4 L35.0 272.1 L35.5 269.4 L35.8 269.0 L36.0 268.3 L36.5 261.0 L37.0 261.2 L37.5 252.0 L38.0 240.2 L38.5 221.2 L39.0 210.6 L39.3 200.0 L39.5 192.1 L40.0 188.6 L40.5 172.0 L41.0 204.8 L41.5 226.0 L42.0 217.7 L42.5 238.8 L42.7 243.0 L43.0 240.5 L43.5 245.5 L44.0 233.4 L44.5 235.0 L45.0 226.6 L45.5 217.5 L46.0 202.1 L46.4 200.0 L47.0 211.3 L47.5 217.4 L47.9 226.0 L48.5 226.6 L49.0 226.9 L49.5 234.5 L49.7 235.0 L50.0 235.0 L50.5 234.5 L51.0 231.1 L51.4 231.0 L52.0 217.9 L52.5 223.7 L53.0 224.0 L53.5 217.0 L54.0 227.3 L54.5 224.9 L55.0 239.4 L55.5 246.5 L55.7 250.0 L56.0 247.7 L56.5 253.0 L57.0 235.0 L57.5 235.0 L58.0 266.7 L58.3 289.0 L58.5 277.4 L59.0 249.6 L59.5 224.3 L59.7 217.0 L60.0 197.6 L60.5 178.5 L61.0 141.5 L61.3 127.0 L61.5 144.2 L62.0 179.4 L62.5 220.9 L62.7 235.0 L63.0 232.1 L63.5 228.9 L64.0 243.8 L64.5 233.8 L65.0 241.6 L65.3 240.0 L65.5 235.6 L66.0 238.1 L66.5 234.5 L67.0 229.0 L67.5 235.3 L68.0 244.3 L68.5 249.8 L68.7 252.0 L69.0 265.1 L69.5 279.6 L70.0 314.8 L70.5 305.0 L71.0 298.5 L71.5 285.9 L72.0 269.3 L72.2 266.0 L72.5 263.6 L73.0 259.6 L73.5 259.4 L74.0 252.0 L74.5 253.9 L74.8 252.0 L75.0 254.7 L75.5 258.4 L76.0 279.8 L76.5 282.2 L77.0 289.0 L77.5 277.2 L78.0 263.7 L78.5 254.4 L79.1 252.0 L79.5 237.2 L80.0 227.6 L80.5 214.0 L80.9 200.0 L81.5 190.0 L82.0 174.7 L82.2 169.0 L82.5 173.7 L83.0 189.0 L83.5 200.0 L84.0 236.5 L84.3 254.0 L84.5 249.9 L85.0 261.2 L85.5 264.6 L86.0 250.0 L86.5 247.1 L87.0 240.0 L87.5 245.3 L87.8 240.0 L88.0 244.6 L88.5 249.5 L89.0 247.3 L89.5 257.0 L90.0 261.8 L90.5 257.0 L91.0 259.0 L91.3 259.0 L91.5 271.8 L92.0 264.9 L92.5 273.0 L93.0 278.0 L93.5 275.3 L94.0 271.0 L94.5 272.8 L94.7 271.0 L95.0 274.7 L95.5 279.6 L96.0 281.5 L96.5 287.0 L97.0 288.3 L97.5 273.3 L98.0 276.4 L98.2 274.0 L98.5 266.2 L99.0 255.9 L99.5 254.7 L99.9 235.0 L100.5 221.2 L101.0 206.8 L101.5 201.5 L102.0 192.1 L102.5 182.0 L103.0 200.3 L103.4 217.0 L104.0 238.7 L104.5 244.1 L105.1 261.0 L105.5 270.3 L106.0 277.9 L106.5 283.3 L106.9 287.0 L107.5 290.2 L108.0 297.7 L108.6 304.0 L109.0 300.6 L109.5 302.0 L110.0 299.1 L110.5 287.5 L111.0 281.8 L111.2 278.0 L111.5 278.5 L112.0 293.2 L112.5 304.2 L112.9 311.0 L113.5 314.1 L114.0 297.7 L114.5 292.1 L114.7 287.0 L115.0 290.5 L115.5 298.3 L116.0 300.9 L116.5 310.8 L117.0 305.5 L117.3 311.0 L117.5 313.8 L118.0 324.1 L118.5 330.8 L119.0 332.0 L119.5 317.8 L120.0 282.3 L120.5 262.7 L120.7 252.0 L121.0 252.0 L121.5 237.2 L122.0 215.2 L122.5 202.1 L123.0 200.2 L123.5 184.7 L123.8 177.0 L124.0 190.2 L124.5 210.3 L125.0 243.0 L125.5 251.1 L126.0 269.0 L126.5 268.1 L126.8 273.0 L127.0 273.7 L127.5 278.5 L128.0 273.0 L128.5 280.0 L129.0 279.5 L129.5 280.0 L130.0 286.8 L130.3 287.0 L131.0 285.7 L131.5 279.4 L132.0 281.4 L132.5 273.0 L132.9 273.0 L133.5 278.5 L134.0 278.1 L134.6 281.0 L135.0 279.8 L135.5 274.5 L136.0 274.0 L136.3 273.0 L137.0 273.0 L137.5 274.8 L138.0 269.5 L138.5 266.7 L139.0 261.0 L139.5 261.1 L139.8 261.0 L140.5 263.8 L141.0 263.2 L141.5 265.1 L142.0 259.7 L142.4 259.0 L143.0 250.7 L143.5 249.8 L144.1 247.0 L144.5 254.7 L145.0 275.4 L145.5 292.6 L145.8 302.0 L146.5 287.3 L147.0 288.4 L147.6 266.0 L148.0 277.2 L148.5 276.2 L149.0 278.2 L149.3 283.0 L150.0 282.9 L150.5 285.7 L151.0 287.0 L151.5 287.9 L152.0 283.0 L152.5 289.9 L153.0 284.5 L153.6 283.0 L154.0 284.1 L154.5 293.9 L155.0 298.1 L155.5 302.3 L156.0 320.1 L156.7 320.0 L157.0 316.3 L157.5 310.2 L158.0 295.1 L158.5 283.0 L159.0 276.7 L159.5 270.1 L160.0 259.8 L160.5 250.9 L161.0 240.0 L161.5 233.3 L162.0 211.4 L162.5 198.3 L162.8 192.0 L163.5 176.5 L164.0 151.1 L164.5 140.0 L165.0 125.5 L165.3 121.0 L166.0 140.5 L166.3 145.0 L167.1 157.0 L167.5 155.6 L168.0 171.8 L168.5 182.8 L168.9 188.0 L169.7 209.0 L170.0 206.2 L170.5 197.8 L171.0 199.7 L171.5 185.0 L172.0 192.1 L172.3 197.0 L173.0 208.2 L173.5 207.2 L174.0 223.0 L174.5 229.7 L175.0 229.8 L175.5 233.7 L175.8 237.0 L176.5 223.0 L177.0 208.3 L177.5 199.0 L178.0 202.5 L178.5 201.0 L179.0 204.0 L179.3 206.0 L180.0 197.0 L180.5 187.5 L181.0 188.0 L181.5 185.8 L182.0 183.9 L182.7 175.0 L183.0 161.1 L183.5 156.9 L184.0 158.0 L184.5 149.0 L185.0 144.9 L185.5 130.0 L186.0 131.5 L186.4 135.0 L187.0 151.5 L187.5 152.0 L187.9 157.0 L188.5 171.6 L189.0 179.7 L189.7 188.0 L190.0 189.2 L190.5 200.0 L191.0 203.5 L191.4 204.0 L192.0 204.7 L192.5 209.2 L193.1 206.0 L193.5 208.8 L194.0 219.7 L194.5 244.9 L194.9 235.0 L195.7 250.0 L196.0 252.9 L196.6 240.0 L197.0 244.4 L197.5 260.3 L198.0 266.5 L198.3 281.0 L199.0 275.5 L199.5 282.5 L200.0 268.9 L200.5 265.5 L200.9 261.0 L201.5 249.4 L202.0 235.2 L202.7 223.0 L203.0 219.0 L203.5 215.4 L204.0 203.0 L204.4 192.0 L205.0 173.9 L205.5 160.7 L206.0 147.6 L206.4 138.0 L207.0 150.6 L207.5 159.5 L207.9 171.0 L208.5 189.5 L209.0 194.0 L209.6 206.0 L210.0 201.4 L210.5 197.0 L211.0 195.0 L211.3 195.0 L212.0 203.2 L212.5 219.8 L213.1 213.0 L213.5 238.0 L213.9 254.0 L214.5 252.7 L214.8 244.0 L215.5 245.4 L216.0 261.2 L216.5 251.0 L217.0 245.4 L217.5 249.0 L218.0 252.3 L218.3 240.0 L219.1 288.0 L219.5 277.8 L220.0 263.2 L220.5 261.9 L220.9 251.0 L221.5 238.7 L222.0 237.8 L222.5 238.8 L223.0 229.7 L223.5 223.0 L224.0 211.0 L224.5 196.9 L225.2 183.0 L225.5 177.2 L226.0 170.2 L226.5 148.9 L227.0 145.4 L227.4 145.0 L228.0 180.0 L228.7 175.0 L229.0 175.4 L229.5 171.0 L230.0 175.0 L230.4 176.0 L231.0 198.0 L231.3 209.0 L232.1 240.0 L232.5 246.3 L233.0 253.0 L233.5 259.6 L233.9 266.0 L234.5 268.9 L235.0 276.3 L235.6 278.0 L236.0 282.2 L236.5 279.3 L237.0 270.0 L237.5 270.0 L238.0 282.0 L238.5 281.1 L239.0 288.0 L239.5 275.7 L240.0 274.3 L240.5 270.0 L241.0 264.4 L241.7 256.0 L242.0 259.9 L242.5 259.6 L243.0 265.0 L243.5 265.2 L244.0 271.9 L244.3 275.0 L245.1 244.0 L245.5 251.1 L246.0 221.5 L246.5 219.6 L246.8 210.0 L247.5 193.3 L248.0 184.2 L248.6 175.0 L249.0 175.0 L249.5 177.6 L250.0 195.0 L250.3 182.0 L251.0 190.6 L251.5 200.0 L252.0 213.0 L252.5 230.8 L252.9 245.0 L253.5 259.0 L253.8 266.0 L254.5 274.4 L255.0 275.2 L255.5 275.0 L256.0 287.0 L256.5 287.3 L257.0 301.1 L257.3 302.0 L258.0 292.0 L258.5 289.5 L258.8 285.0 L259.5 299.4 L260.0 297.2 L260.4 300.0 L261.0 288.0 L261.5 284.7 L262.0 278.6 L262.5 275.0 L263.0 275.7 L263.5 273.0 L264.2 264.0 L264.5 259.1 L265.0 262.4 L265.5 257.6 L265.9 250.0 L266.5 240.1 L267.0 234.8 L267.5 230.0 L268.0 228.8 L268.5 220.5 L269.0 212.9 L269.4 208.0 L270.0 208.0 L270.5 213.6 L271.0 222.0 L271.5 222.1 L272.0 230.0 L272.5 248.5 L272.8 266.0 L273.7 306.0 L274.0 295.9 L274.5 281.8 L275.0 268.1 L275.5 254.0 L276.0 262.3 L276.5 258.0 L276.8 262.0 L277.5 266.7 L278.0 280.0 L278.5 279.1 L279.0 288.1 L279.5 268.0 L280.0 273.1 L280.5 273.7 L281.0 285.0 L281.5 292.5 L282.0 276.0 L282.5 297.4 L283.2 292.0 L283.5 289.8 L284.0 279.2 L284.5 276.3 L285.0 274.8 L285.5 265.0 L285.8 262.0 L286.5 249.0 L287.0 242.2 L287.5 230.0 L288.0 216.1 L288.5 204.9 L289.0 196.3 L289.3 188.0 L290.0 195.1 L290.5 200.0 L291.0 201.9 L291.5 204.5 L291.9 213.0 L292.5 228.6 L293.0 236.8 L293.6 257.0 L294.0 264.3 L294.5 268.0 L295.0 269.0 L295.4 275.0 L296.0 270.4 L296.5 260.9 L297.1 257.0 L297.5 268.4 L298.0 263.1 L298.5 278.4 L299.0 280.0 L299.5 285.9 L300.0 288.0 L300.6 290.0 L301.0 285.9 L301.5 282.1 L302.0 279.4 L302.3 275.0 L303.0 272.7 L303.5 284.1 L304.0 285.0 L304.5 277.3 L305.2 257.0 L305.5 252.2 L306.0 259.6 L306.6 257.0 L307.0 254.1 L307.5 236.5 L307.8 233.0 L308.7 212.0 L309.0 204.2 L309.5 192.6 L310.0 179.8 L310.4 172.0 L311.0 180.2 L311.5 194.3 L311.8 195.0 L312.5 189.7 L313.0 194.2 L313.5 185.0 L313.9 185.0 L314.5 199.8 L315.0 206.9 L315.3 215.0 L316.0 219.6 L316.5 222.0 L317.0 229.7 L317.5 234.1 L318.2 247.0 L318.5 244.1 L319.0 242.0 L319.5 241.7 L319.9 241.0 L320.5 257.5 L320.8 267.0 L321.7 250.0 L322.0 248.9 L322.5 265.3 L323.0 265.0 L323.4 271.0 L324.0 283.9 L324.3 293.0 L325.1 243.0 L325.5 230.6 L326.0 231.6 L326.5 222.0 L327.0 231.2 L327.5 236.1 L328.0 249.7 L328.6 253.0 L329.0 247.4 L329.5 249.8 L330.0 250.3 L330.7 231.0 L331.0 237.3 L331.5 241.8 L332.1 247.0 L332.5 237.7 L333.0 231.6 L333.5 236.1 L334.0 224.1 L334.3 220.0 L335.0 240.3 L335.5 246.6 L336.0 250.0 L336.5 253.8 L337.0 266.1 L337.3 271.0 L338.0 274.8 L338.5 285.9 L339.0 302.0 L339.5 310.4 L340.0 311.3 L340.7 316.0 L341.0 314.2 L341.5 326.6 L342.0 311.3 L342.5 302.0 L343.0 314.4 L343.5 328.4 L344.2 337.0 L344.5 343.0 L345.0 342.0 L345.4 344.0 L346.0 340.2 L346.5 337.3 L347.0 336.8 L347.7 337.0 L348.0 327.9 L348.5 330.2 L349.0 314.2 L349.4 305.0 L350.0 304.8 L350.5 294.2 L351.1 298.0 L351.5 286.6 L352.0 275.8 L352.5 269.0 L353.0 277.2 L353.5 284.2 L354.0 291.8 L354.6 300.0 L355.0 305.6 L355.5 317.8 L356.0 324.8 L356.3 323.0 L357.2 330.0 L357.5 328.6 L358.0 327.8 L358.5 322.9 L358.9 316.0 L359.5 317.9 L360.0 311.1 L360.7 305.0 L361.0 306.5 L361.5 324.9 L362.0 331.7 L362.4 337.0 L363.0 340.3 L363.5 341.0 L364.0 344.3 L364.3 347.0 L365.0 337.0 L365.5 343.4 L366.0 325.9 L366.7 318.0 L367.0 315.4 L367.5 320.8 L368.0 304.3 L368.5 302.3 L369.0 288.9 L369.3 292.0 L370.0 278.1 L370.5 278.1 L371.1 272.0 L371.5 265.3 L372.0 261.4 L372.4 253.0 L373.0 256.2 L373.5 262.8 L374.2 267.0 L374.5 264.8 L375.0 260.3 L375.4 257.0 L376.0 259.3 L376.5 275.7 L377.1 285.0 L377.5 284.8 L378.0 287.2 L378.5 284.0 L378.9 280.0 L379.5 294.9 L380.0 306.5 L380.6 319.0 L381.0 308.1 L381.5 309.0 L382.0 308.8 L382.3 307.0 L383.0 313.7 L383.5 314.7 L384.1 328.0 L384.5 338.3 L384.9 349.0 L385.5 348.3 L386.0 346.5 L386.7 340.0 L387.0 331.7 L387.5 319.5 L388.0 313.7 L388.4 302.0 L389.0 295.1 L389.5 281.0 L389.8 281.0 L390.5 291.4 L391.0 302.0 L391.5 300.8 L392.0 315.2 L392.7 328.0 L393.0 316.4 L393.5 292.6 L394.0 271.2 L394.5 254.0 L395.0 258.7 L395.5 258.0 L396.2 267.0 L396.5 276.4 L397.0 289.9 L397.5 299.7 L397.9 307.0 L398.5 313.0 L399.0 328.0 L399.7 333.0 L400.0 340.8 L400.5 344.7 L401.0 356.6 L401.5 358.0 L402.0 364.3 L402.3 372.0 L403.0 364.0 L403.5 345.7 L404.0 337.0 L404.5 331.1 L405.0 311.1 L405.7 305.0 L406.0 310.0 L406.5 317.2 L407.0 324.8 L407.5 330.0 L408.0 309.3 L408.5 312.1 L409.2 298.0 L409.5 293.8 L410.0 290.5 L410.5 285.8 L411.0 277.3 L411.5 274.5 L411.8 267.0 L412.5 263.1 L413.0 256.7 L413.5 252.0 L413.9 252.0 L414.5 253.0 L415.2 272.0 L415.5 278.0 L416.0 278.7 L416.5 289.9 L417.0 288.6 L417.5 295.4 L417.8 302.0 L418.5 305.4 L419.0 316.9 L419.6 323.0 L420.0 324.7 L420.5 315.7 L421.0 314.0 L421.3 307.0 L422.0 312.0 L422.5 316.4 L423.0 328.0 L423.5 334.3 L424.0 328.0 L424.5 344.8 L424.8 351.0 L425.5 338.6 L426.0 337.8 L426.5 323.9 L427.0 319.2 L427.4 316.0 L428.0 312.8 L428.5 305.0 L429.0 305.0 L429.5 309.8 L430.0 311.1 L430.5 317.8 L430.9 326.0 L431.5 314.5 L432.0 301.1 L432.6 285.0 L433.0 276.0 L433.5 261.9 L434.0 250.4 L434.5 246.8 L435.2 236.0 L435.5 237.9 L436.0 244.8 L436.5 260.8 L436.9 267.0 L437.5 265.9 L438.0 287.5 L438.6 285.0 L439.0 294.0 L439.5 299.2 L440.0 316.7 L440.4 323.0 L441.0 316.7 L441.5 303.0 L442.1 293.0 L442.5 297.8 L443.0 292.1 L443.5 292.0 L444.0 292.0 L444.7 292.0 L445.0 295.0 L445.5 305.3 L446.0 307.1 L446.4 305.0 L447.0 310.9 L447.5 314.1 L448.2 315.0 L448.5 314.9 L449.0 305.4 L449.5 291.4 L449.9 293.0 L450.5 281.9 L451.0 281.8 L451.7 273.0 L452.0 269.1 L452.5 266.3 L453.0 266.5 L453.5 256.0 L454.0 246.0 L454.5 248.1 L454.9 246.0 L455.5 256.8 L456.0 253.4 L456.6 251.0 L457.0 257.4 L457.5 261.3 L457.8 272.0 L458.7 262.0 L459.0 264.2 L459.5 264.9 L460.0 270.5 L460.4 273.0 L461.0 275.4 L461.5 282.6 L461.8 287.0 L462.5 305.4 L463.0 310.0 L463.5 320.2 L463.9 325.0 L464.7 299.0 L465.0 294.3 L465.5 295.0 L466.0 280.8 L466.5 280.0 L467.0 291.5 L467.3 299.0 L468.0 308.7 L468.5 308.1 L469.1 318.0 L469.5 299.9 L470.0 291.4 L470.5 275.0 L471.0 259.8 L471.7 246.0 L472.0 248.0 L472.5 258.8 L473.0 270.0 L473.5 265.7 L474.0 249.0 L474.6 247.0 L475.0 249.0 L475.5 252.7 L476.0 256.0 L476.5 262.8 L477.0 262.6 L477.4 270.0 L478.0 293.9 L478.6 298.0 L479.0 309.3 L479.5 324.0 L480.0 309.9 L480.5 301.4 L480.8 296.0 L481.5 297.6 L482.1 303.0 L482.5 311.2 L483.0 310.9 L483.5 316.5 L483.8 322.0 L484.5 331.0 L485.0 331.9 L485.5 334.0 L486.0 326.5 L486.5 319.7 L487.0 313.2 L487.3 313.0 L488.0 306.6 L488.5 306.3 L489.0 305.0 L489.5 309.8 L490.0 320.2 L490.7 334.0 L491.0 327.3 L491.5 316.3 L492.0 314.3 L492.5 301.0 L493.0 331.2 L493.3 351.0 L494.2 327.0 L494.5 326.4 L495.0 307.8 L495.4 299.0 L496.0 296.5 L496.5 282.1 L496.8 275.0 L497.5 279.7 L498.0 275.0 L498.5 282.0 L499.0 275.1 L499.5 279.3 L500.0 282.3 L500.3 278.0 L501.0 288.8 L501.5 297.0 L502.0 303.0 L502.5 306.7 L503.0 323.5 L503.7 327.0 L504.0 328.1 L504.5 326.4 L505.0 330.3 L505.5 322.0 L506.0 322.0 L506.5 336.0 L507.2 325.0 L507.5 324.5 L508.0 319.1 L508.5 323.9 L508.9 317.0 L509.5 318.3 L510.0 321.3 L510.7 327.0 L511.0 322.3 L511.5 315.2 L512.0 318.6 L512.4 317.0 L513.0 315.3 L513.3 299.0 L513.5 302.4 L514.0 316.3 L514.5 328.7 L515.0 339.0 L515.5 323.6 L516.0 299.8 L516.5 292.9 L516.7 287.0 L517.0 284.7 L517.5 283.9 L517.9 280.0 L518.5 287.6 L519.0 284.5 L519.3 287.0 L519.5 283.8 L520.0 275.0 L520.5 276.0 L521.0 290.5 L521.6 275.0 L522.0 293.3 L522.5 283.0 L522.8 285.0 L523.0 288.9 L523.5 297.7 L524.0 310.0 L524.2 310.0 L524.5 312.3 L525.0 316.9 L525.4 317.0 L526.0 306.8 L526.5 322.6 L527.1 303.0 L527.5 309.4 L528.0 311.8 L528.5 319.2 L528.9 320.0 L529.5 316.3 L530.0 306.5 L530.6 303.0 L531.0 310.4 L531.5 313.5 L532.0 321.5 L532.3 327.0 L532.5 327.0 L533.0 331.8 L533.5 329.3 L534.1 334.0 L534.5 322.9 L535.0 307.4 L535.5 307.2 L535.8 299.0 L536.0 296.8 L536.5 298.2 L537.0 293.1 L537.5 289.0 L538.0 291.0 L538.5 278.0 L539.0 279.5 L539.3 278.0 L539.5 278.0 L540.0 292.4 L540.5 287.7 L541.0 296.0 L541.5 290.8 L542.0 290.8 L542.5 283.2 L543.0 284.2 L543.2 278.0 L543.5 285.4 L544.0 293.4 L544.5 298.3 L545.0 305.0 L545.5 307.2 L546.0 310.6 L546.5 307.8 L546.7 306.0 L547.0 306.1 L547.5 311.3 L548.0 306.0 L548.5 309.3 L548.8 310.0 L549.0 310.8 L549.5 317.3 L550.0 315.9 L550.5 330.0 L551.0 339.1 L551.5 340.2 L552.0 351.7 L552.3 343.0 L552.5 344.8 L553.0 348.7 L553.5 346.3 L554.0 345.0 L554.5 329.7 L555.0 331.7 L555.5 329.0 L555.7 324.0 L556.0 347.4 L556.6 342.0 L557.0 343.1 L557.5 334.2 L558.0 327.3 L558.3 329.0 L558.5 327.3 L559.0 327.3 L559.5 322.0 L560.0 322.0 L560.5 330.1 L561.0 342.6 L561.5 329.7 L561.8 341.0 L562.0 341.6 L562.5 339.4 L563.0 336.5 L563.5 334.0 L564.0 338.3 L564.4 350.0 L565.0 347.1 L565.2 343.0 L565.5 336.8 L566.0 358.4 L566.5 351.3 L567.0 358.0 L567.5 365.0 L567.8 360.0 L568.0 372.1 L568.5 364.6 L569.0 360.4 L569.6 355.0 L570.0 360.9 L570.5 356.2 L571.0 367.5 L571.3 377.0 L571.5 383.3 L572.0 381.2 L572.5 401.4 L573.0 418.6 L573.5 417.1 L573.9 414.0 L574.5 417.1 L575.0 389.7 L575.6 372.0 L576.0 371.1 L576.5 374.9 L577.0 366.0 L577.4 362.0 L578.0 367.3 L578.5 364.1 L579.1 368.0 L579.5 349.3 L580.0 350.0 L580.5 338.4 L581.0 343.4 L581.5 327.6 L581.7 327.0 L582.0 328.2 L582.5 341.1 L583.0 335.1 L583.4 337.0 L584.0 327.0 L584.5 332.0 L585.0 328.0 L585.2 325.0 L585.5 332.9 L586.0 340.4 L586.5 346.9 L586.9 355.0 L587.5 350.0 L588.0 356.6 L588.6 346.0 L589.0 363.6 L589.5 346.0 L590.0 358.4 L590.4 350.0 L591.0 346.2 L591.5 340.7 L592.1 346.0 L592.5 345.2 L593.0 344.1 L593.5 359.2 L594.0 338.0 L594.5 336.2 L595.0 332.4 L595.5 335.9 L596.0 332.1 L596.4 328.0 L597.0 351.4 L597.5 328.0 L598.0 328.0 L598.5 337.0 L599.0 330.0 L599.5 326.0 L600.0 335.3 L600.5 333.0 L601.0 326.0 L601.6 326.0 L602.0 331.7 L602.5 334.6 L603.0 350.9 L603.5 345.0 L604.0 351.8 L604.5 345.0 L605.0 345.0 L605.5 346.8 L606.1 352.0 L606.5 370.0 L607.0 350.3 L607.5 356.5 L607.8 358.0 L608.0 360.2 L608.5 350.0 L609.0 357.8 L609.5 350.0 L610.0 350.0 L610.5 350.3 L611.0 360.9 L611.3 360.0 L611.5 358.2 L612.0 351.7 L612.5 358.6 L613.0 355.0 L613.5 355.0 L614.0 362.6 L614.5 376.3 L614.7 376.0 L615.0 368.7 L615.5 364.5 L616.0 360.1 L616.5 350.0 L617.0 357.4 L617.5 361.1 L618.0 362.7 L618.2 369.0 L618.5 369.3 L619.0 366.2 L619.5 374.4 L620.0 360.0 L620.5 361.3 L621.0 348.9 L621.5 345.0 L621.7 345.0 L622.0 342.6 L622.5 340.5 L623.0 343.1 L623.5 337.2 L624.0 336.8 L624.3 336.0 L624.5 338.5 L625.0 331.0 L625.5 340.4 L626.0 331.0 L626.5 335.8 L627.0 346.7 L627.5 360.4 L627.7 362.0 L628.0 362.6 L628.5 360.7 L629.0 378.1 L629.5 376.0 L630.0 375.8 L630.5 369.5 L631.0 368.0 L631.5 366.7 L632.0 359.2 L632.5 357.7 L632.9 348.0 L633.5 348.0 L634.0 359.9 L634.5 358.8 L634.7 360.0 L635.0 350.0 L635.5 360.0 L636.0 366.1 L636.4 367.0 L637.0 381.0 L637.5 362.5 L638.0 355.2 L638.5 346.0 L639.0 348.0 L639.5 357.2 L640.0 342.5 L640.5 331.0 L641.0 340.0 L641.5 342.5 L642.0 333.9 L642.5 331.0 L643.0 331.0 L643.5 340.3 L644.0 353.0 L644.5 373.6 L644.7 362.0 L645.0 357.7 L645.5 348.0 L646.0 352.0 L646.5 358.3 L646.8 352.0 L647.0 370.3 L647.5 352.0 L648.0 371.0 L648.5 372.0 L649.0 368.6 L649.5 373.7 L650.0 372.7 L650.3 378.0 L650.5 378.5 L651.0 365.0 L651.5 371.9 L652.0 365.0 L652.5 363.7 L653.0 345.0 L653.5 349.4 L653.7 345.0 L654.0 346.0 L654.5 347.4 L655.0 347.3 L655.5 357.0 L656.0 350.5 L656.5 354.1 L657.0 354.8 L657.4 350.0 L658.0 351.6 L658.5 345.4 L659.0 346.4 L659.3 341.0 L659.5 339.5 L660.0 334.3 L660.5 331.0 L661.0 326.0 L661.5 336.2 L662.0 337.8 L662.5 343.9 L662.7 345.0 L663.0 350.0 L663.5 356.1 L664.0 375.7 L664.5 379.0 L665.0 381.4 L665.5 365.9 L666.0 363.5 L666.2 362.0 L666.5 369.1 L667.0 362.0 L667.5 379.8 L667.9 381.0 L668.5 367.2 L669.0 360.0 L669.5 360.0 L670.0 360.0 L670.5 360.0 L671.0 362.0 L671.5 361.4 L672.0 375.3 L672.5 372.0 L673.0 370.0 L673.5 378.0 L674.0 386.0 L674.5 401.0 L675.0 405.9 L675.4 414.0 L676.0 373.6 L676.5 371.5 L677.1 345.0 L677.5 350.1 L678.0 356.3 L678.5 353.8 L678.8 358.0 L679.0 371.3 L679.5 358.1 L680.0 365.4 L680.5 348.0 L681.0 362.9 L681.5 348.0 L682.0 350.0 L682.5 359.0 L683.0 360.2 L683.2 362.0 L683.5 365.6 L684.0 371.7 L684.5 364.3 L685.0 377.2 L685.5 374.6 L685.8 379.0 L686.0 378.0 L686.5 366.3 L687.0 363.7 L687.5 355.0 L688.0 357.4 L688.5 355.0 L689.0 362.5 L689.3 362.0 L689.5 368.0 L690.0 358.1 L690.5 372.5 L691.0 368.0 L691.5 367.6 L692.0 381.2 L692.5 377.8 L693.0 378.9 L693.6 376.0 L694.0 376.0 L694.5 378.3 L695.0 380.1 L695.3 383.0 L695.5 389.1 L696.0 402.0 L696.5 382.4 L697.0 397.0 L697.5 394.5 L698.0 392.9 L698.5 388.4 L698.8 380.0 L699.0 379.1 L699.5 373.3 L700.0 368.0 L700.5 366.0 L700.9 375.0 L701.5 371.8 L702.0 360.9 L702.6 346.0 L703.0 352.4 L703.5 346.0 L704.0 348.4 L704.5 349.0 L705.0 349.3 L705.5 354.4 L706.1 344.0 L706.5 350.2 L707.0 342.0 L707.5 356.3 L707.8 342.0 L708.0 342.0 L708.5 346.4 L709.0 347.6 L709.5 345.0 L710.0 355.8 L710.5 353.5 L711.0 360.4 L711.3 363.0 L711.5 361.4 L712.0 346.2 L712.5 359.1 L713.0 350.0 L713.5 350.0 L714.0 352.0 L714.5 351.2 L714.7 355.0 L715.0 353.6 L715.5 361.8 L716.0 389.7 L716.4 372.0 L717.0 378.3 L717.5 366.4 L718.0 365.0 L718.2 365.0 L718.5 387.4 L719.0 369.7 L719.5 387.6 L719.9 386.0 L720.5 374.9 L721.0 395.0 L721.5 409.4 L721.7 400.0 L722.0 398.9 L722.5 389.3 L723.0 370.5 L723.4 372.0 L724.0 358.3 L724.5 356.2 L725.1 351.0 L725.5 351.0 L726.0 362.1 L726.5 366.2 L726.8 363.0 L727.0 359.0 L727.5 357.4 L728.0 353.2 L728.6 350.0 L729.0 369.3 L729.5 365.9 L730.0 369.4 L730.3 372.0 L730.5 370.1 L731.0 361.9 L731.5 359.1 L732.1 348.0 L732.5 350.6 L733.0 355.9 L733.5 354.2 L733.8 358.0 L734.0 352.2 L734.5 362.4 L735.0 358.0 L735.5 358.0 L736.0 359.7 L736.5 358.0 L737.0 370.3 L737.5 362.0 L738.0 358.0 L738.5 365.9 L739.0 376.0 L739.5 379.7 L739.9 372.0 L740.5 371.3 L741.0 369.6 L741.5 363.0 L742.0 363.0 L742.5 363.0 L743.0 365.4 L743.5 385.0 L744.0 363.0 L744.5 375.1 L744.7 375.0 L745.0 376.8 L745.5 364.3 L746.0 368.5 L746.5 356.5 L746.8 353.0 L747.0 354.4 L747.5 358.8 L748.0 365.9 L748.5 377.0 L749.0 393.9 L749.5 385.0 L750.0 393.5 L750.3 400.0 L750.5 398.5 L751.0 388.6 L751.5 377.0 L752.0 368.0 L752.5 369.4 L753.0 361.8 L753.5 360.7 L753.7 360.0 L754.0 358.0 L754.5 361.8 L755.0 351.0 L755.5 351.0 L756.0 364.5 L756.5 375.0 L757.0 390.2 L757.2 394.0 L757.5 395.3 L758.0 389.9 L758.5 376.4 L759.0 372.0 L759.5 373.8 L760.0 387.1 L760.5 383.8 L760.7 386.0 L761.0 391.3 L761.5 387.6 L762.0 377.2 L762.4 380.0 L763.0 380.5 L763.5 375.1 L764.0 370.0 L764.5 373.6 L765.0 368.4 L765.5 363.0 L766.0 361.4 L766.5 355.0 L767.0 346.0 L767.6 355.0 L768.0 354.7 L768.5 355.1 L769.0 347.7 L769.3 346.0 L769.5 350.6 L770.0 356.6 L770.5 364.4 L771.0 372.0 L771.5 367.7 L772.0 372.0 L772.5 380.0 L773.0 386.5 L773.5 377.6 L773.7 372.0 L774.0 369.6 L774.5 360.6 L775.0 355.2 L775.5 349.5 L775.9 342.0 L776.5 342.0 L777.0 375.2 L777.6 355.0 L778.0 362.0 L778.5 366.0 L779.0 346.1 L779.4 349.0 L780.0 341.3 L780.5 349.9 L781.0 337.0 L781.5 337.0 L782.0 337.0 L782.5 361.7 L783.0 365.0 L783.2 363.0 L783.5 362.7 L784.0 376.7 L784.5 400.8 L784.9 377.0 L785.5 388.1 L786.0 378.6 L786.5 365.0 L786.7 365.0 L787.0 366.1 L787.5 385.8 L788.0 375.7 L788.4 372.0 L789.0 362.1 L789.5 357.5 L790.0 363.0 L790.5 361.9 L791.0 355.0 L791.5 361.7 L792.0 355.0 L792.5 365.2 L792.7 365.0 L793.0 368.1 L793.5 358.8 L794.0 356.2 L794.5 355.0 L795.0 359.5 L795.5 351.5 L796.0 368.4 L796.2 350.0 L796.5 350.3 L797.0 361.9 L797.5 375.9 L798.0 377.0 L798.5 379.3 L799.0 375.7 L799.5 385.4 L799.7 372.0 L800.0 375.0 L800.5 372.0 L801.0 384.6 L801.4 372.0 L802.0 357.1 L802.5 356.0 L803.0 365.5 L803.5 356.0 L804.0 356.0 L804.5 360.1 L805.0 348.8 L805.5 347.2 L806.1 344.0 L806.5 344.0 L807.0 361.1 L807.5 356.7 L808.0 355.9 L808.3 360.0 L808.5 357.1 L809.0 353.5 L809.5 365.1 L810.0 352.8 L810.5 351.0 L810.9 351.0 L811.5 354.0 L812.0 365.4 L812.5 370.7 L812.7 372.0 L813.0 375.0 L813.5 376.8 L814.0 374.9 L814.4 381.0 L815.0 376.6 L815.5 360.5 L816.0 365.5 L816.5 358.0 L817.0 357.3 L817.5 357.1 L818.0 377.7 L818.5 356.0 L818.7 356.0 L819.0 368.9 L819.5 384.7 L820.0 401.6 L820.5 410.0 L821.0 380.3 L821.3 363.0 L821.5 363.6 L822.0 362.4 L822.5 365.3 L823.0 355.0 L823.5 355.6 L823.9 355.0 L824.5 352.3 L825.0 359.8 L825.5 351.4 L826.0 348.9 L826.2 346.0 L826.5 357.1 L827.0 352.7 L827.5 360.2 L828.0 362.5 L828.2 363.0 L828.5 364.3 L829.0 373.3 L829.5 359.6 L830.0 358.0 L830.5 368.2 L831.0 372.8 L831.5 367.3 L831.7 368.0 L832.0 362.5 L832.5 375.8 L833.0 374.9 L833.5 379.0 L834.0 383.7 L834.5 396.5 L835.0 388.3 L835.2 390.0 L835.5 386.4 L836.0 379.0 L836.5 379.7 L836.9 380.0 L837.5 375.0 L838.0 377.4 L838.6 375.0 L839.0 385.1 L839.5 372.6 L840.0 368.5 L840.5 364.5 L840.7 362.0 L841.0 371.2 L841.5 372.0" fill="none" stroke="#1010c8" stroke-width="1.2" shape-rendering="auto" stroke-linejoin="miter"/>
<rect x="841.3" y="372.0" width="1.6" height="240.0" fill="#16167a"/>
<rect x="888" y="62" width="10" height="554" fill="#bebebe"/>
<rect x="884.5" y="58.5" width="9" height="553" fill="#ff8080" stroke="#300000" stroke-width="1"/>
<rect x="904" y="66" width="10" height="550" fill="#bebebe"/>
<rect x="900.5" y="62.5" width="9" height="549" fill="#8080ff" stroke="#000040" stroke-width="1"/>
<text x="19.0" y="16" text-anchor="middle">0</text><text x="19.0" y="623.5" text-anchor="middle">0</text><text x="93.7" y="16" text-anchor="middle">2</text><text x="93.7" y="623.5" text-anchor="middle">2</text><text x="168.5" y="16" text-anchor="middle">4</text><text x="168.5" y="623.5" text-anchor="middle">4</text><text x="243.2" y="16" text-anchor="middle">6</text><text x="243.2" y="623.5" text-anchor="middle">6</text><text x="317.9" y="16" text-anchor="middle">8</text><text x="317.9" y="623.5" text-anchor="middle">8</text><text x="392.6" y="16" text-anchor="middle">10</text><text x="392.6" y="623.5" text-anchor="middle">10</text><text x="467.4" y="16" text-anchor="middle">12</text><text x="467.4" y="623.5" text-anchor="middle">12</text><text x="542.1" y="16" text-anchor="middle">14</text><text x="542.1" y="623.5" text-anchor="middle">14</text><text x="616.8" y="16" text-anchor="middle">16</text><text x="616.8" y="623.5" text-anchor="middle">16</text><text x="691.5" y="16" text-anchor="middle">18</text><text x="691.5" y="623.5" text-anchor="middle">18</text><text x="766.3" y="16" text-anchor="middle">20</text><text x="766.3" y="623.5" text-anchor="middle">20</text><text x="841.0" y="16" text-anchor="middle">22</text><text x="841.0" y="623.5" text-anchor="middle">22</text><text x="845.5" y="24.0">0</text><text x="845.5" y="108.6">-20</text><text x="845.5" y="193.1">-40</text><text x="845.5" y="277.7">-60</text><text x="845.5" y="362.3">-80</text><text x="845.5" y="446.9">-100</text><text x="845.5" y="531.4">-120</text><text x="845.5" y="616.0">-140</text>
<text x="857" y="337">[dB]</text>
<text x="462" y="638" text-anchor="middle">[kHz]</text>
<text x="9.5" y="644">created by Hub Audio Tools</text>
</svg>
</body></html>
